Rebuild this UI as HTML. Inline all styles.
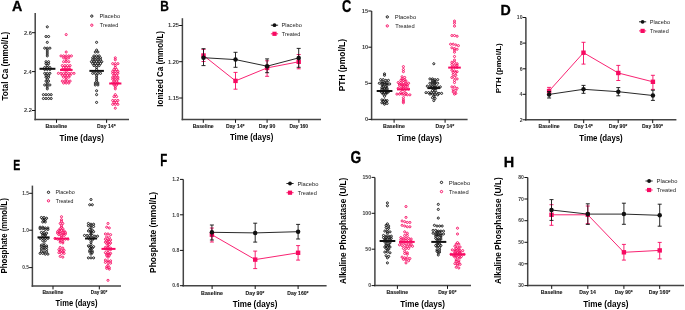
<!DOCTYPE html>
<html><head><meta charset="utf-8"><style>
html,body{margin:0;padding:0;background:#fff;width:685px;height:310px;overflow:hidden}
svg{display:block;font-family:"Liberation Sans",sans-serif;will-change:transform;filter:blur(0.3px)}
</style></head><body>
<svg width="685" height="310" viewBox="0 0 685 310">
<rect width="685" height="310" fill="#fff"/>
<text transform="translate(11.89,10.75) scale(0.994,1)" font-size="14.39" font-weight="bold" fill="#000" stroke="#000" stroke-width="0.3">A</text>
<text transform="translate(7.70,100.59) rotate(-90) scale(0.942,1)" font-size="8.72" font-weight="bold" fill="#000">Total Ca (mmol/L)</text>
<line x1="35.20" y1="13.00" x2="35.20" y2="120.25" stroke="#444" stroke-width="1.5"/>
<line x1="34.45" y1="119.50" x2="129.00" y2="119.50" stroke="#444" stroke-width="1.5"/>
<line x1="31.90" y1="110.50" x2="35.20" y2="110.50" stroke="#111" stroke-width="1.0"/>
<text transform="translate(23.95,112.45) scale(1.000,1)" font-size="5.67" font-weight="bold" fill="#3a3a3a">2.2</text>
<line x1="31.90" y1="71.60" x2="35.20" y2="71.60" stroke="#111" stroke-width="1.0"/>
<text transform="translate(23.75,73.55) scale(1.000,1)" font-size="5.67" font-weight="bold" fill="#3a3a3a">2.4</text>
<line x1="31.90" y1="32.70" x2="35.20" y2="32.70" stroke="#111" stroke-width="1.0"/>
<text transform="translate(23.92,34.65) scale(1.000,1)" font-size="5.67" font-weight="bold" fill="#3a3a3a">2.6</text>
<line x1="56.50" y1="119.50" x2="56.50" y2="122.80" stroke="#111" stroke-width="1.0"/>
<text transform="translate(45.49,127.90) scale(0.913,1)" font-size="5.81" font-weight="bold" fill="#1a1a1a" stroke="#1a1a1a" stroke-width="0.12">Baseline</text>
<line x1="106.60" y1="119.50" x2="106.60" y2="122.80" stroke="#111" stroke-width="1.0"/>
<text transform="translate(97.10,127.90) scale(0.888,1)" font-size="5.81" font-weight="bold" fill="#1a1a1a" stroke="#1a1a1a" stroke-width="0.12">Day 14*</text>
<text transform="translate(59.61,140.80) scale(0.916,1)" font-size="8.72" font-weight="bold" fill="#000">Time (days)</text>
<circle cx="47.30" cy="26.84" r="1.05" fill="none" stroke="#111" stroke-width="0.9"/>
<circle cx="46.00" cy="36.52" r="1.05" fill="none" stroke="#111" stroke-width="0.9"/>
<circle cx="48.60" cy="36.52" r="1.05" fill="none" stroke="#111" stroke-width="0.9"/>
<circle cx="47.30" cy="42.34" r="1.05" fill="none" stroke="#111" stroke-width="0.9"/>
<circle cx="44.70" cy="48.15" r="1.05" fill="none" stroke="#111" stroke-width="0.9"/>
<circle cx="47.30" cy="48.15" r="1.05" fill="none" stroke="#111" stroke-width="0.9"/>
<circle cx="49.90" cy="48.15" r="1.05" fill="none" stroke="#111" stroke-width="0.9"/>
<circle cx="47.30" cy="50.09" r="1.05" fill="none" stroke="#111" stroke-width="0.9"/>
<circle cx="47.30" cy="52.02" r="1.05" fill="none" stroke="#111" stroke-width="0.9"/>
<circle cx="47.30" cy="53.96" r="1.05" fill="none" stroke="#111" stroke-width="0.9"/>
<circle cx="47.30" cy="55.90" r="1.05" fill="none" stroke="#111" stroke-width="0.9"/>
<circle cx="46.00" cy="61.71" r="1.05" fill="none" stroke="#111" stroke-width="0.9"/>
<circle cx="48.60" cy="61.71" r="1.05" fill="none" stroke="#111" stroke-width="0.9"/>
<circle cx="46.00" cy="63.65" r="1.05" fill="none" stroke="#111" stroke-width="0.9"/>
<circle cx="48.60" cy="63.65" r="1.05" fill="none" stroke="#111" stroke-width="0.9"/>
<circle cx="47.30" cy="65.59" r="1.05" fill="none" stroke="#111" stroke-width="0.9"/>
<circle cx="44.70" cy="67.53" r="1.05" fill="none" stroke="#111" stroke-width="0.9"/>
<circle cx="47.30" cy="67.53" r="1.05" fill="none" stroke="#111" stroke-width="0.9"/>
<circle cx="49.90" cy="67.53" r="1.05" fill="none" stroke="#111" stroke-width="0.9"/>
<circle cx="44.70" cy="69.46" r="1.05" fill="none" stroke="#111" stroke-width="0.9"/>
<circle cx="47.30" cy="69.46" r="1.05" fill="none" stroke="#111" stroke-width="0.9"/>
<circle cx="49.90" cy="69.46" r="1.05" fill="none" stroke="#111" stroke-width="0.9"/>
<circle cx="44.70" cy="73.34" r="1.05" fill="none" stroke="#111" stroke-width="0.9"/>
<circle cx="47.30" cy="73.34" r="1.05" fill="none" stroke="#111" stroke-width="0.9"/>
<circle cx="49.90" cy="73.34" r="1.05" fill="none" stroke="#111" stroke-width="0.9"/>
<circle cx="46.00" cy="75.28" r="1.05" fill="none" stroke="#111" stroke-width="0.9"/>
<circle cx="48.60" cy="75.28" r="1.05" fill="none" stroke="#111" stroke-width="0.9"/>
<circle cx="46.00" cy="77.21" r="1.05" fill="none" stroke="#111" stroke-width="0.9"/>
<circle cx="48.60" cy="77.21" r="1.05" fill="none" stroke="#111" stroke-width="0.9"/>
<circle cx="47.30" cy="79.15" r="1.05" fill="none" stroke="#111" stroke-width="0.9"/>
<circle cx="46.00" cy="81.09" r="1.05" fill="none" stroke="#111" stroke-width="0.9"/>
<circle cx="48.60" cy="81.09" r="1.05" fill="none" stroke="#111" stroke-width="0.9"/>
<circle cx="47.30" cy="83.03" r="1.05" fill="none" stroke="#111" stroke-width="0.9"/>
<circle cx="44.70" cy="84.96" r="1.05" fill="none" stroke="#111" stroke-width="0.9"/>
<circle cx="47.30" cy="84.96" r="1.05" fill="none" stroke="#111" stroke-width="0.9"/>
<circle cx="49.90" cy="84.96" r="1.05" fill="none" stroke="#111" stroke-width="0.9"/>
<circle cx="47.30" cy="86.90" r="1.05" fill="none" stroke="#111" stroke-width="0.9"/>
<circle cx="47.30" cy="88.84" r="1.05" fill="none" stroke="#111" stroke-width="0.9"/>
<circle cx="43.40" cy="94.65" r="1.05" fill="none" stroke="#111" stroke-width="0.9"/>
<circle cx="46.00" cy="94.65" r="1.05" fill="none" stroke="#111" stroke-width="0.9"/>
<circle cx="48.60" cy="94.65" r="1.05" fill="none" stroke="#111" stroke-width="0.9"/>
<circle cx="51.20" cy="94.65" r="1.05" fill="none" stroke="#111" stroke-width="0.9"/>
<circle cx="43.40" cy="98.52" r="1.05" fill="none" stroke="#111" stroke-width="0.9"/>
<circle cx="46.00" cy="98.52" r="1.05" fill="none" stroke="#111" stroke-width="0.9"/>
<circle cx="48.60" cy="98.52" r="1.05" fill="none" stroke="#111" stroke-width="0.9"/>
<circle cx="51.20" cy="98.52" r="1.05" fill="none" stroke="#111" stroke-width="0.9"/>
<circle cx="66.20" cy="34.59" r="1.05" fill="none" stroke="#F70A62" stroke-width="0.9"/>
<circle cx="66.20" cy="52.02" r="1.05" fill="none" stroke="#F70A62" stroke-width="0.9"/>
<circle cx="61.00" cy="55.90" r="1.05" fill="none" stroke="#F70A62" stroke-width="0.9"/>
<circle cx="63.60" cy="55.90" r="1.05" fill="none" stroke="#F70A62" stroke-width="0.9"/>
<circle cx="66.20" cy="55.90" r="1.05" fill="none" stroke="#F70A62" stroke-width="0.9"/>
<circle cx="68.80" cy="55.90" r="1.05" fill="none" stroke="#F70A62" stroke-width="0.9"/>
<circle cx="71.40" cy="55.90" r="1.05" fill="none" stroke="#F70A62" stroke-width="0.9"/>
<circle cx="63.60" cy="57.84" r="1.05" fill="none" stroke="#F70A62" stroke-width="0.9"/>
<circle cx="66.20" cy="57.84" r="1.05" fill="none" stroke="#F70A62" stroke-width="0.9"/>
<circle cx="68.80" cy="57.84" r="1.05" fill="none" stroke="#F70A62" stroke-width="0.9"/>
<circle cx="66.20" cy="59.77" r="1.05" fill="none" stroke="#F70A62" stroke-width="0.9"/>
<circle cx="63.60" cy="61.71" r="1.05" fill="none" stroke="#F70A62" stroke-width="0.9"/>
<circle cx="66.20" cy="61.71" r="1.05" fill="none" stroke="#F70A62" stroke-width="0.9"/>
<circle cx="68.80" cy="61.71" r="1.05" fill="none" stroke="#F70A62" stroke-width="0.9"/>
<circle cx="62.30" cy="65.59" r="1.05" fill="none" stroke="#F70A62" stroke-width="0.9"/>
<circle cx="64.90" cy="65.59" r="1.05" fill="none" stroke="#F70A62" stroke-width="0.9"/>
<circle cx="67.50" cy="65.59" r="1.05" fill="none" stroke="#F70A62" stroke-width="0.9"/>
<circle cx="70.10" cy="65.59" r="1.05" fill="none" stroke="#F70A62" stroke-width="0.9"/>
<circle cx="63.60" cy="67.53" r="1.05" fill="none" stroke="#F70A62" stroke-width="0.9"/>
<circle cx="66.20" cy="67.53" r="1.05" fill="none" stroke="#F70A62" stroke-width="0.9"/>
<circle cx="68.80" cy="67.53" r="1.05" fill="none" stroke="#F70A62" stroke-width="0.9"/>
<circle cx="62.30" cy="69.46" r="1.05" fill="none" stroke="#F70A62" stroke-width="0.9"/>
<circle cx="64.90" cy="69.46" r="1.05" fill="none" stroke="#F70A62" stroke-width="0.9"/>
<circle cx="67.50" cy="69.46" r="1.05" fill="none" stroke="#F70A62" stroke-width="0.9"/>
<circle cx="70.10" cy="69.46" r="1.05" fill="none" stroke="#F70A62" stroke-width="0.9"/>
<circle cx="66.20" cy="71.40" r="1.05" fill="none" stroke="#F70A62" stroke-width="0.9"/>
<circle cx="58.40" cy="73.34" r="1.05" fill="none" stroke="#F70A62" stroke-width="0.9"/>
<circle cx="61.00" cy="73.34" r="1.05" fill="none" stroke="#F70A62" stroke-width="0.9"/>
<circle cx="63.60" cy="73.34" r="1.05" fill="none" stroke="#F70A62" stroke-width="0.9"/>
<circle cx="66.20" cy="73.34" r="1.05" fill="none" stroke="#F70A62" stroke-width="0.9"/>
<circle cx="68.80" cy="73.34" r="1.05" fill="none" stroke="#F70A62" stroke-width="0.9"/>
<circle cx="71.40" cy="73.34" r="1.05" fill="none" stroke="#F70A62" stroke-width="0.9"/>
<circle cx="74.00" cy="73.34" r="1.05" fill="none" stroke="#F70A62" stroke-width="0.9"/>
<circle cx="62.30" cy="75.28" r="1.05" fill="none" stroke="#F70A62" stroke-width="0.9"/>
<circle cx="64.90" cy="75.28" r="1.05" fill="none" stroke="#F70A62" stroke-width="0.9"/>
<circle cx="67.50" cy="75.28" r="1.05" fill="none" stroke="#F70A62" stroke-width="0.9"/>
<circle cx="70.10" cy="75.28" r="1.05" fill="none" stroke="#F70A62" stroke-width="0.9"/>
<circle cx="63.60" cy="77.21" r="1.05" fill="none" stroke="#F70A62" stroke-width="0.9"/>
<circle cx="66.20" cy="77.21" r="1.05" fill="none" stroke="#F70A62" stroke-width="0.9"/>
<circle cx="68.80" cy="77.21" r="1.05" fill="none" stroke="#F70A62" stroke-width="0.9"/>
<circle cx="66.20" cy="79.15" r="1.05" fill="none" stroke="#F70A62" stroke-width="0.9"/>
<circle cx="62.30" cy="81.09" r="1.05" fill="none" stroke="#F70A62" stroke-width="0.9"/>
<circle cx="64.90" cy="81.09" r="1.05" fill="none" stroke="#F70A62" stroke-width="0.9"/>
<circle cx="67.50" cy="81.09" r="1.05" fill="none" stroke="#F70A62" stroke-width="0.9"/>
<circle cx="70.10" cy="81.09" r="1.05" fill="none" stroke="#F70A62" stroke-width="0.9"/>
<circle cx="63.60" cy="83.03" r="1.05" fill="none" stroke="#F70A62" stroke-width="0.9"/>
<circle cx="66.20" cy="83.03" r="1.05" fill="none" stroke="#F70A62" stroke-width="0.9"/>
<circle cx="68.80" cy="83.03" r="1.05" fill="none" stroke="#F70A62" stroke-width="0.9"/>
<circle cx="96.60" cy="42.34" r="1.05" fill="none" stroke="#111" stroke-width="0.9"/>
<circle cx="96.60" cy="50.09" r="1.05" fill="none" stroke="#111" stroke-width="0.9"/>
<circle cx="95.30" cy="52.02" r="1.05" fill="none" stroke="#111" stroke-width="0.9"/>
<circle cx="97.90" cy="52.02" r="1.05" fill="none" stroke="#111" stroke-width="0.9"/>
<circle cx="94.00" cy="55.90" r="1.05" fill="none" stroke="#111" stroke-width="0.9"/>
<circle cx="96.60" cy="55.90" r="1.05" fill="none" stroke="#111" stroke-width="0.9"/>
<circle cx="99.20" cy="55.90" r="1.05" fill="none" stroke="#111" stroke-width="0.9"/>
<circle cx="92.70" cy="57.84" r="1.05" fill="none" stroke="#111" stroke-width="0.9"/>
<circle cx="95.30" cy="57.84" r="1.05" fill="none" stroke="#111" stroke-width="0.9"/>
<circle cx="97.90" cy="57.84" r="1.05" fill="none" stroke="#111" stroke-width="0.9"/>
<circle cx="100.50" cy="57.84" r="1.05" fill="none" stroke="#111" stroke-width="0.9"/>
<circle cx="92.70" cy="59.77" r="1.05" fill="none" stroke="#111" stroke-width="0.9"/>
<circle cx="95.30" cy="59.77" r="1.05" fill="none" stroke="#111" stroke-width="0.9"/>
<circle cx="97.90" cy="59.77" r="1.05" fill="none" stroke="#111" stroke-width="0.9"/>
<circle cx="100.50" cy="59.77" r="1.05" fill="none" stroke="#111" stroke-width="0.9"/>
<circle cx="91.40" cy="61.71" r="1.05" fill="none" stroke="#111" stroke-width="0.9"/>
<circle cx="94.00" cy="61.71" r="1.05" fill="none" stroke="#111" stroke-width="0.9"/>
<circle cx="96.60" cy="61.71" r="1.05" fill="none" stroke="#111" stroke-width="0.9"/>
<circle cx="99.20" cy="61.71" r="1.05" fill="none" stroke="#111" stroke-width="0.9"/>
<circle cx="101.80" cy="61.71" r="1.05" fill="none" stroke="#111" stroke-width="0.9"/>
<circle cx="92.70" cy="63.65" r="1.05" fill="none" stroke="#111" stroke-width="0.9"/>
<circle cx="95.30" cy="63.65" r="1.05" fill="none" stroke="#111" stroke-width="0.9"/>
<circle cx="97.90" cy="63.65" r="1.05" fill="none" stroke="#111" stroke-width="0.9"/>
<circle cx="100.50" cy="63.65" r="1.05" fill="none" stroke="#111" stroke-width="0.9"/>
<circle cx="94.00" cy="65.59" r="1.05" fill="none" stroke="#111" stroke-width="0.9"/>
<circle cx="96.60" cy="65.59" r="1.05" fill="none" stroke="#111" stroke-width="0.9"/>
<circle cx="99.20" cy="65.59" r="1.05" fill="none" stroke="#111" stroke-width="0.9"/>
<circle cx="96.60" cy="67.53" r="1.05" fill="none" stroke="#111" stroke-width="0.9"/>
<circle cx="96.60" cy="69.46" r="1.05" fill="none" stroke="#111" stroke-width="0.9"/>
<circle cx="92.70" cy="73.34" r="1.05" fill="none" stroke="#111" stroke-width="0.9"/>
<circle cx="95.30" cy="73.34" r="1.05" fill="none" stroke="#111" stroke-width="0.9"/>
<circle cx="97.90" cy="73.34" r="1.05" fill="none" stroke="#111" stroke-width="0.9"/>
<circle cx="100.50" cy="73.34" r="1.05" fill="none" stroke="#111" stroke-width="0.9"/>
<circle cx="96.60" cy="75.28" r="1.05" fill="none" stroke="#111" stroke-width="0.9"/>
<circle cx="96.60" cy="77.21" r="1.05" fill="none" stroke="#111" stroke-width="0.9"/>
<circle cx="96.60" cy="79.15" r="1.05" fill="none" stroke="#111" stroke-width="0.9"/>
<circle cx="96.60" cy="81.09" r="1.05" fill="none" stroke="#111" stroke-width="0.9"/>
<circle cx="95.30" cy="83.03" r="1.05" fill="none" stroke="#111" stroke-width="0.9"/>
<circle cx="97.90" cy="83.03" r="1.05" fill="none" stroke="#111" stroke-width="0.9"/>
<circle cx="95.30" cy="84.96" r="1.05" fill="none" stroke="#111" stroke-width="0.9"/>
<circle cx="97.90" cy="84.96" r="1.05" fill="none" stroke="#111" stroke-width="0.9"/>
<circle cx="96.60" cy="90.77" r="1.05" fill="none" stroke="#111" stroke-width="0.9"/>
<circle cx="96.60" cy="94.65" r="1.05" fill="none" stroke="#111" stroke-width="0.9"/>
<circle cx="96.60" cy="102.40" r="1.05" fill="none" stroke="#111" stroke-width="0.9"/>
<circle cx="115.30" cy="57.84" r="1.05" fill="none" stroke="#F70A62" stroke-width="0.9"/>
<circle cx="115.30" cy="59.77" r="1.05" fill="none" stroke="#F70A62" stroke-width="0.9"/>
<circle cx="112.70" cy="63.65" r="1.05" fill="none" stroke="#F70A62" stroke-width="0.9"/>
<circle cx="115.30" cy="63.65" r="1.05" fill="none" stroke="#F70A62" stroke-width="0.9"/>
<circle cx="117.90" cy="63.65" r="1.05" fill="none" stroke="#F70A62" stroke-width="0.9"/>
<circle cx="115.30" cy="65.59" r="1.05" fill="none" stroke="#F70A62" stroke-width="0.9"/>
<circle cx="115.30" cy="67.53" r="1.05" fill="none" stroke="#F70A62" stroke-width="0.9"/>
<circle cx="114.00" cy="69.46" r="1.05" fill="none" stroke="#F70A62" stroke-width="0.9"/>
<circle cx="116.60" cy="69.46" r="1.05" fill="none" stroke="#F70A62" stroke-width="0.9"/>
<circle cx="112.70" cy="71.40" r="1.05" fill="none" stroke="#F70A62" stroke-width="0.9"/>
<circle cx="115.30" cy="71.40" r="1.05" fill="none" stroke="#F70A62" stroke-width="0.9"/>
<circle cx="117.90" cy="71.40" r="1.05" fill="none" stroke="#F70A62" stroke-width="0.9"/>
<circle cx="112.70" cy="73.34" r="1.05" fill="none" stroke="#F70A62" stroke-width="0.9"/>
<circle cx="115.30" cy="73.34" r="1.05" fill="none" stroke="#F70A62" stroke-width="0.9"/>
<circle cx="117.90" cy="73.34" r="1.05" fill="none" stroke="#F70A62" stroke-width="0.9"/>
<circle cx="114.00" cy="75.28" r="1.05" fill="none" stroke="#F70A62" stroke-width="0.9"/>
<circle cx="116.60" cy="75.28" r="1.05" fill="none" stroke="#F70A62" stroke-width="0.9"/>
<circle cx="112.70" cy="77.21" r="1.05" fill="none" stroke="#F70A62" stroke-width="0.9"/>
<circle cx="115.30" cy="77.21" r="1.05" fill="none" stroke="#F70A62" stroke-width="0.9"/>
<circle cx="117.90" cy="77.21" r="1.05" fill="none" stroke="#F70A62" stroke-width="0.9"/>
<circle cx="112.70" cy="79.15" r="1.05" fill="none" stroke="#F70A62" stroke-width="0.9"/>
<circle cx="115.30" cy="79.15" r="1.05" fill="none" stroke="#F70A62" stroke-width="0.9"/>
<circle cx="117.90" cy="79.15" r="1.05" fill="none" stroke="#F70A62" stroke-width="0.9"/>
<circle cx="114.00" cy="81.09" r="1.05" fill="none" stroke="#F70A62" stroke-width="0.9"/>
<circle cx="116.60" cy="81.09" r="1.05" fill="none" stroke="#F70A62" stroke-width="0.9"/>
<circle cx="112.70" cy="83.03" r="1.05" fill="none" stroke="#F70A62" stroke-width="0.9"/>
<circle cx="115.30" cy="83.03" r="1.05" fill="none" stroke="#F70A62" stroke-width="0.9"/>
<circle cx="117.90" cy="83.03" r="1.05" fill="none" stroke="#F70A62" stroke-width="0.9"/>
<circle cx="114.00" cy="84.96" r="1.05" fill="none" stroke="#F70A62" stroke-width="0.9"/>
<circle cx="116.60" cy="84.96" r="1.05" fill="none" stroke="#F70A62" stroke-width="0.9"/>
<circle cx="115.30" cy="86.90" r="1.05" fill="none" stroke="#F70A62" stroke-width="0.9"/>
<circle cx="115.30" cy="88.84" r="1.05" fill="none" stroke="#F70A62" stroke-width="0.9"/>
<circle cx="115.30" cy="94.65" r="1.05" fill="none" stroke="#F70A62" stroke-width="0.9"/>
<circle cx="114.00" cy="96.59" r="1.05" fill="none" stroke="#F70A62" stroke-width="0.9"/>
<circle cx="116.60" cy="96.59" r="1.05" fill="none" stroke="#F70A62" stroke-width="0.9"/>
<circle cx="112.70" cy="100.46" r="1.05" fill="none" stroke="#F70A62" stroke-width="0.9"/>
<circle cx="115.30" cy="100.46" r="1.05" fill="none" stroke="#F70A62" stroke-width="0.9"/>
<circle cx="117.90" cy="100.46" r="1.05" fill="none" stroke="#F70A62" stroke-width="0.9"/>
<circle cx="114.00" cy="102.40" r="1.05" fill="none" stroke="#F70A62" stroke-width="0.9"/>
<circle cx="116.60" cy="102.40" r="1.05" fill="none" stroke="#F70A62" stroke-width="0.9"/>
<circle cx="112.70" cy="104.34" r="1.05" fill="none" stroke="#F70A62" stroke-width="0.9"/>
<circle cx="115.30" cy="104.34" r="1.05" fill="none" stroke="#F70A62" stroke-width="0.9"/>
<circle cx="117.90" cy="104.34" r="1.05" fill="none" stroke="#F70A62" stroke-width="0.9"/>
<circle cx="115.30" cy="108.21" r="1.05" fill="none" stroke="#F70A62" stroke-width="0.9"/>
<line x1="39.50" y1="68.80" x2="55.40" y2="68.80" stroke="#111" stroke-width="2.0"/>
<line x1="60.00" y1="69.90" x2="72.60" y2="69.90" stroke="#F70A62" stroke-width="2.0"/>
<line x1="89.40" y1="70.90" x2="103.90" y2="70.90" stroke="#111" stroke-width="2.0"/>
<line x1="109.20" y1="83.50" x2="121.40" y2="83.50" stroke="#F70A62" stroke-width="2.0"/>
<circle cx="91.8" cy="16.1" r="1.15" fill="none" stroke="#111" stroke-width="0.95"/>
<circle cx="91.8" cy="25.2" r="1.15" fill="none" stroke="#F70A62" stroke-width="0.95"/>
<text transform="translate(99.43,18.25) scale(0.917,1)" font-size="6.25" fill="#222">Placebo</text>
<text transform="translate(99.78,27.35) scale(0.876,1)" font-size="6.25" fill="#222">Treated</text>
<text transform="translate(160.25,10.75) scale(0.807,1)" font-size="14.83" font-weight="bold" fill="#000" stroke="#000" stroke-width="0.3">B</text>
<text transform="translate(163.00,106.63) rotate(-90) scale(0.947,1)" font-size="8.43" font-weight="bold" fill="#000">Ionized Ca (mmol/L)</text>
<line x1="182.40" y1="18.20" x2="182.40" y2="120.25" stroke="#444" stroke-width="1.5"/>
<line x1="181.65" y1="119.50" x2="321.00" y2="119.50" stroke="#444" stroke-width="1.5"/>
<line x1="179.10" y1="98.00" x2="182.40" y2="98.00" stroke="#111" stroke-width="1.0"/>
<text transform="translate(167.93,99.95) scale(1.000,1)" font-size="5.67" font-weight="bold" fill="#3a3a3a">1.15</text>
<line x1="179.10" y1="61.70" x2="182.40" y2="61.70" stroke="#111" stroke-width="1.0"/>
<text transform="translate(168.00,63.65) scale(1.000,1)" font-size="5.67" font-weight="bold" fill="#3a3a3a">1.20</text>
<line x1="179.10" y1="25.50" x2="182.40" y2="25.50" stroke="#111" stroke-width="1.0"/>
<text transform="translate(167.93,27.45) scale(1.000,1)" font-size="5.67" font-weight="bold" fill="#3a3a3a">1.25</text>
<line x1="203.30" y1="119.50" x2="203.30" y2="122.80" stroke="#111" stroke-width="1.0"/>
<text transform="translate(192.66,127.90) scale(0.883,1)" font-size="5.81" font-weight="bold" fill="#1a1a1a" stroke="#1a1a1a" stroke-width="0.12">Baseline</text>
<line x1="235.50" y1="119.50" x2="235.50" y2="122.80" stroke="#111" stroke-width="1.0"/>
<text transform="translate(226.00,127.90) scale(0.888,1)" font-size="5.81" font-weight="bold" fill="#1a1a1a" stroke="#1a1a1a" stroke-width="0.12">Day 14*</text>
<line x1="267.10" y1="119.50" x2="267.10" y2="122.80" stroke="#111" stroke-width="1.0"/>
<text transform="translate(258.76,127.90) scale(0.883,1)" font-size="5.81" font-weight="bold" fill="#1a1a1a" stroke="#1a1a1a" stroke-width="0.12">Day 90</text>
<line x1="298.90" y1="119.50" x2="298.90" y2="122.80" stroke="#111" stroke-width="1.0"/>
<text transform="translate(289.47,127.90) scale(0.852,1)" font-size="5.81" font-weight="bold" fill="#1a1a1a" stroke="#1a1a1a" stroke-width="0.12">Day 160</text>
<text transform="translate(229.91,140.10) scale(0.899,1)" font-size="8.72" font-weight="bold" fill="#000">Time (days)</text>
<polyline points="203.5,55.5 235.5,80.9 267.1,67.9 298.7,61.8" fill="none" stroke="#F70A62" stroke-width="0.9"/>
<line x1="203.50" y1="49.40" x2="203.50" y2="61.50" stroke="#F70A62" stroke-width="0.9"/>
<line x1="201.50" y1="49.40" x2="205.50" y2="49.40" stroke="#F70A62" stroke-width="0.9"/>
<line x1="201.50" y1="61.50" x2="205.50" y2="61.50" stroke="#F70A62" stroke-width="0.9"/>
<line x1="235.50" y1="72.40" x2="235.50" y2="89.20" stroke="#F70A62" stroke-width="0.9"/>
<line x1="233.50" y1="72.40" x2="237.50" y2="72.40" stroke="#F70A62" stroke-width="0.9"/>
<line x1="233.50" y1="89.20" x2="237.50" y2="89.20" stroke="#F70A62" stroke-width="0.9"/>
<line x1="267.10" y1="60.80" x2="267.10" y2="76.30" stroke="#F70A62" stroke-width="0.9"/>
<line x1="265.10" y1="60.80" x2="269.10" y2="60.80" stroke="#F70A62" stroke-width="0.9"/>
<line x1="265.10" y1="76.30" x2="269.10" y2="76.30" stroke="#F70A62" stroke-width="0.9"/>
<line x1="298.70" y1="54.50" x2="298.70" y2="68.80" stroke="#F70A62" stroke-width="0.9"/>
<line x1="296.70" y1="54.50" x2="300.70" y2="54.50" stroke="#F70A62" stroke-width="0.9"/>
<line x1="296.70" y1="68.80" x2="300.70" y2="68.80" stroke="#F70A62" stroke-width="0.9"/>
<rect x="201.3" y="53.3" width="4.4" height="4.4" fill="#F70A62"/>
<rect x="233.3" y="78.7" width="4.4" height="4.4" fill="#F70A62"/>
<rect x="264.90000000000003" y="65.7" width="4.4" height="4.4" fill="#F70A62"/>
<rect x="296.5" y="59.599999999999994" width="4.4" height="4.4" fill="#F70A62"/>
<polyline points="203.5,57.7 235.5,59.6 267.1,66.2 298.7,57.9" fill="none" stroke="#111" stroke-width="0.9"/>
<line x1="203.50" y1="48.70" x2="203.50" y2="65.60" stroke="#111" stroke-width="0.9"/>
<line x1="201.50" y1="48.70" x2="205.50" y2="48.70" stroke="#111" stroke-width="0.9"/>
<line x1="201.50" y1="65.60" x2="205.50" y2="65.60" stroke="#111" stroke-width="0.9"/>
<line x1="235.50" y1="52.30" x2="235.50" y2="67.30" stroke="#111" stroke-width="0.9"/>
<line x1="233.50" y1="52.30" x2="237.50" y2="52.30" stroke="#111" stroke-width="0.9"/>
<line x1="233.50" y1="67.30" x2="237.50" y2="67.30" stroke="#111" stroke-width="0.9"/>
<line x1="267.10" y1="58.90" x2="267.10" y2="72.70" stroke="#111" stroke-width="0.9"/>
<line x1="265.10" y1="58.90" x2="269.10" y2="58.90" stroke="#111" stroke-width="0.9"/>
<line x1="265.10" y1="72.70" x2="269.10" y2="72.70" stroke="#111" stroke-width="0.9"/>
<line x1="298.70" y1="48.40" x2="298.70" y2="67.30" stroke="#111" stroke-width="0.9"/>
<line x1="296.70" y1="48.40" x2="300.70" y2="48.40" stroke="#111" stroke-width="0.9"/>
<line x1="296.70" y1="67.30" x2="300.70" y2="67.30" stroke="#111" stroke-width="0.9"/>
<circle cx="203.5" cy="57.7" r="2.25" fill="#111"/>
<circle cx="235.5" cy="59.6" r="2.25" fill="#111"/>
<circle cx="267.1" cy="66.2" r="2.25" fill="#111"/>
<circle cx="298.7" cy="57.9" r="2.25" fill="#111"/>
<line x1="270.90" y1="25.20" x2="278.10" y2="25.20" stroke="#111" stroke-width="0.9"/>
<circle cx="274.5" cy="25.2" r="1.9" fill="#111"/>
<line x1="270.90" y1="33.80" x2="278.10" y2="33.80" stroke="#F70A62" stroke-width="0.9"/>
<rect x="272.4" y="31.699999999999996" width="4.2" height="4.2" fill="#F70A62"/>
<text transform="translate(281.43,27.35) scale(0.908,1)" font-size="6.25" fill="#222">Placebo</text>
<text transform="translate(281.78,35.95) scale(0.876,1)" font-size="6.25" fill="#222">Treated</text>
<text transform="translate(341.92,11.60) scale(0.819,1)" font-size="15.68" font-weight="bold" fill="#000" stroke="#000" stroke-width="0.3">C</text>
<text transform="translate(345.10,91.36) rotate(-90) scale(0.967,1)" font-size="8.72" font-weight="bold" fill="#000">PTH (pmol/L)</text>
<line x1="371.60" y1="11.00" x2="371.60" y2="120.15" stroke="#444" stroke-width="1.5"/>
<line x1="370.85" y1="119.40" x2="467.60" y2="119.40" stroke="#444" stroke-width="1.5"/>
<line x1="368.30" y1="119.40" x2="371.60" y2="119.40" stroke="#111" stroke-width="1.0"/>
<text transform="translate(365.08,121.35) scale(1.000,1)" font-size="5.67" font-weight="bold" fill="#3a3a3a">0</text>
<line x1="368.30" y1="83.30" x2="371.60" y2="83.30" stroke="#111" stroke-width="1.0"/>
<text transform="translate(365.01,85.25) scale(1.000,1)" font-size="5.67" font-weight="bold" fill="#3a3a3a">5</text>
<line x1="368.30" y1="47.20" x2="371.60" y2="47.20" stroke="#111" stroke-width="1.0"/>
<text transform="translate(361.93,49.15) scale(1.000,1)" font-size="5.67" font-weight="bold" fill="#3a3a3a">10</text>
<line x1="368.30" y1="11.00" x2="371.60" y2="11.00" stroke="#111" stroke-width="1.0"/>
<text transform="translate(361.85,12.95) scale(1.000,1)" font-size="5.67" font-weight="bold" fill="#3a3a3a">15</text>
<line x1="394.10" y1="119.40" x2="394.10" y2="122.70" stroke="#111" stroke-width="1.0"/>
<text transform="translate(383.09,127.80) scale(0.913,1)" font-size="5.81" font-weight="bold" fill="#1a1a1a" stroke="#1a1a1a" stroke-width="0.12">Baseline</text>
<line x1="445.10" y1="119.40" x2="445.10" y2="122.70" stroke="#111" stroke-width="1.0"/>
<text transform="translate(435.60,127.80) scale(0.888,1)" font-size="5.81" font-weight="bold" fill="#1a1a1a" stroke="#1a1a1a" stroke-width="0.12">Day 14*</text>
<text transform="translate(397.01,141.10) scale(0.931,1)" font-size="8.72" font-weight="bold" fill="#000">Time (days)</text>
<circle cx="384.50" cy="73.85" r="1.05" fill="none" stroke="#111" stroke-width="0.9"/>
<circle cx="384.50" cy="75.30" r="1.05" fill="none" stroke="#111" stroke-width="0.9"/>
<circle cx="380.60" cy="79.64" r="1.05" fill="none" stroke="#111" stroke-width="0.9"/>
<circle cx="383.20" cy="79.64" r="1.05" fill="none" stroke="#111" stroke-width="0.9"/>
<circle cx="385.80" cy="80.36" r="1.05" fill="none" stroke="#111" stroke-width="0.9"/>
<circle cx="388.40" cy="80.36" r="1.05" fill="none" stroke="#111" stroke-width="0.9"/>
<circle cx="381.90" cy="81.80" r="1.05" fill="none" stroke="#111" stroke-width="0.9"/>
<circle cx="384.50" cy="82.53" r="1.05" fill="none" stroke="#111" stroke-width="0.9"/>
<circle cx="387.10" cy="82.53" r="1.05" fill="none" stroke="#111" stroke-width="0.9"/>
<circle cx="379.30" cy="83.25" r="1.05" fill="none" stroke="#111" stroke-width="0.9"/>
<circle cx="381.90" cy="83.25" r="1.05" fill="none" stroke="#111" stroke-width="0.9"/>
<circle cx="384.50" cy="83.25" r="1.05" fill="none" stroke="#111" stroke-width="0.9"/>
<circle cx="387.10" cy="83.97" r="1.05" fill="none" stroke="#111" stroke-width="0.9"/>
<circle cx="389.70" cy="83.97" r="1.05" fill="none" stroke="#111" stroke-width="0.9"/>
<circle cx="381.90" cy="84.70" r="1.05" fill="none" stroke="#111" stroke-width="0.9"/>
<circle cx="384.50" cy="84.70" r="1.05" fill="none" stroke="#111" stroke-width="0.9"/>
<circle cx="387.10" cy="85.42" r="1.05" fill="none" stroke="#111" stroke-width="0.9"/>
<circle cx="383.20" cy="86.14" r="1.05" fill="none" stroke="#111" stroke-width="0.9"/>
<circle cx="385.80" cy="86.87" r="1.05" fill="none" stroke="#111" stroke-width="0.9"/>
<circle cx="381.90" cy="87.59" r="1.05" fill="none" stroke="#111" stroke-width="0.9"/>
<circle cx="384.50" cy="88.31" r="1.05" fill="none" stroke="#111" stroke-width="0.9"/>
<circle cx="387.10" cy="88.31" r="1.05" fill="none" stroke="#111" stroke-width="0.9"/>
<circle cx="381.90" cy="89.03" r="1.05" fill="none" stroke="#111" stroke-width="0.9"/>
<circle cx="384.50" cy="89.03" r="1.05" fill="none" stroke="#111" stroke-width="0.9"/>
<circle cx="387.10" cy="89.76" r="1.05" fill="none" stroke="#111" stroke-width="0.9"/>
<circle cx="380.60" cy="91.20" r="1.05" fill="none" stroke="#111" stroke-width="0.9"/>
<circle cx="383.20" cy="91.20" r="1.05" fill="none" stroke="#111" stroke-width="0.9"/>
<circle cx="385.80" cy="91.93" r="1.05" fill="none" stroke="#111" stroke-width="0.9"/>
<circle cx="388.40" cy="91.93" r="1.05" fill="none" stroke="#111" stroke-width="0.9"/>
<circle cx="381.90" cy="92.65" r="1.05" fill="none" stroke="#111" stroke-width="0.9"/>
<circle cx="384.50" cy="92.65" r="1.05" fill="none" stroke="#111" stroke-width="0.9"/>
<circle cx="387.10" cy="92.65" r="1.05" fill="none" stroke="#111" stroke-width="0.9"/>
<circle cx="383.20" cy="94.09" r="1.05" fill="none" stroke="#111" stroke-width="0.9"/>
<circle cx="385.80" cy="94.09" r="1.05" fill="none" stroke="#111" stroke-width="0.9"/>
<circle cx="384.50" cy="96.26" r="1.05" fill="none" stroke="#111" stroke-width="0.9"/>
<circle cx="381.90" cy="99.88" r="1.05" fill="none" stroke="#111" stroke-width="0.9"/>
<circle cx="384.50" cy="99.88" r="1.05" fill="none" stroke="#111" stroke-width="0.9"/>
<circle cx="387.10" cy="100.60" r="1.05" fill="none" stroke="#111" stroke-width="0.9"/>
<circle cx="383.20" cy="101.33" r="1.05" fill="none" stroke="#111" stroke-width="0.9"/>
<circle cx="385.80" cy="101.33" r="1.05" fill="none" stroke="#111" stroke-width="0.9"/>
<circle cx="381.90" cy="102.77" r="1.05" fill="none" stroke="#111" stroke-width="0.9"/>
<circle cx="384.50" cy="102.77" r="1.05" fill="none" stroke="#111" stroke-width="0.9"/>
<circle cx="387.10" cy="103.49" r="1.05" fill="none" stroke="#111" stroke-width="0.9"/>
<circle cx="384.50" cy="104.22" r="1.05" fill="none" stroke="#111" stroke-width="0.9"/>
<circle cx="403.40" cy="66.62" r="1.05" fill="none" stroke="#F70A62" stroke-width="0.9"/>
<circle cx="403.40" cy="69.51" r="1.05" fill="none" stroke="#F70A62" stroke-width="0.9"/>
<circle cx="403.40" cy="71.68" r="1.05" fill="none" stroke="#F70A62" stroke-width="0.9"/>
<circle cx="402.10" cy="76.74" r="1.05" fill="none" stroke="#F70A62" stroke-width="0.9"/>
<circle cx="404.70" cy="77.47" r="1.05" fill="none" stroke="#F70A62" stroke-width="0.9"/>
<circle cx="402.10" cy="78.91" r="1.05" fill="none" stroke="#F70A62" stroke-width="0.9"/>
<circle cx="404.70" cy="79.64" r="1.05" fill="none" stroke="#F70A62" stroke-width="0.9"/>
<circle cx="400.80" cy="80.36" r="1.05" fill="none" stroke="#F70A62" stroke-width="0.9"/>
<circle cx="403.40" cy="80.36" r="1.05" fill="none" stroke="#F70A62" stroke-width="0.9"/>
<circle cx="406.00" cy="81.08" r="1.05" fill="none" stroke="#F70A62" stroke-width="0.9"/>
<circle cx="398.20" cy="82.53" r="1.05" fill="none" stroke="#F70A62" stroke-width="0.9"/>
<circle cx="400.80" cy="82.53" r="1.05" fill="none" stroke="#F70A62" stroke-width="0.9"/>
<circle cx="403.40" cy="82.53" r="1.05" fill="none" stroke="#F70A62" stroke-width="0.9"/>
<circle cx="406.00" cy="83.25" r="1.05" fill="none" stroke="#F70A62" stroke-width="0.9"/>
<circle cx="408.60" cy="83.25" r="1.05" fill="none" stroke="#F70A62" stroke-width="0.9"/>
<circle cx="399.50" cy="83.97" r="1.05" fill="none" stroke="#F70A62" stroke-width="0.9"/>
<circle cx="402.10" cy="84.70" r="1.05" fill="none" stroke="#F70A62" stroke-width="0.9"/>
<circle cx="404.70" cy="84.70" r="1.05" fill="none" stroke="#F70A62" stroke-width="0.9"/>
<circle cx="407.30" cy="84.70" r="1.05" fill="none" stroke="#F70A62" stroke-width="0.9"/>
<circle cx="399.50" cy="85.42" r="1.05" fill="none" stroke="#F70A62" stroke-width="0.9"/>
<circle cx="402.10" cy="85.42" r="1.05" fill="none" stroke="#F70A62" stroke-width="0.9"/>
<circle cx="404.70" cy="85.42" r="1.05" fill="none" stroke="#F70A62" stroke-width="0.9"/>
<circle cx="407.30" cy="86.14" r="1.05" fill="none" stroke="#F70A62" stroke-width="0.9"/>
<circle cx="403.40" cy="86.87" r="1.05" fill="none" stroke="#F70A62" stroke-width="0.9"/>
<circle cx="398.20" cy="88.31" r="1.05" fill="none" stroke="#F70A62" stroke-width="0.9"/>
<circle cx="400.80" cy="88.31" r="1.05" fill="none" stroke="#F70A62" stroke-width="0.9"/>
<circle cx="403.40" cy="88.31" r="1.05" fill="none" stroke="#F70A62" stroke-width="0.9"/>
<circle cx="406.00" cy="88.31" r="1.05" fill="none" stroke="#F70A62" stroke-width="0.9"/>
<circle cx="408.60" cy="89.03" r="1.05" fill="none" stroke="#F70A62" stroke-width="0.9"/>
<circle cx="402.10" cy="89.76" r="1.05" fill="none" stroke="#F70A62" stroke-width="0.9"/>
<circle cx="404.70" cy="90.48" r="1.05" fill="none" stroke="#F70A62" stroke-width="0.9"/>
<circle cx="400.80" cy="92.65" r="1.05" fill="none" stroke="#F70A62" stroke-width="0.9"/>
<circle cx="403.40" cy="93.37" r="1.05" fill="none" stroke="#F70A62" stroke-width="0.9"/>
<circle cx="406.00" cy="93.37" r="1.05" fill="none" stroke="#F70A62" stroke-width="0.9"/>
<circle cx="396.90" cy="94.09" r="1.05" fill="none" stroke="#F70A62" stroke-width="0.9"/>
<circle cx="399.50" cy="94.09" r="1.05" fill="none" stroke="#F70A62" stroke-width="0.9"/>
<circle cx="402.10" cy="94.09" r="1.05" fill="none" stroke="#F70A62" stroke-width="0.9"/>
<circle cx="404.70" cy="94.82" r="1.05" fill="none" stroke="#F70A62" stroke-width="0.9"/>
<circle cx="407.30" cy="94.82" r="1.05" fill="none" stroke="#F70A62" stroke-width="0.9"/>
<circle cx="409.90" cy="94.82" r="1.05" fill="none" stroke="#F70A62" stroke-width="0.9"/>
<circle cx="403.40" cy="97.71" r="1.05" fill="none" stroke="#F70A62" stroke-width="0.9"/>
<circle cx="403.40" cy="99.88" r="1.05" fill="none" stroke="#F70A62" stroke-width="0.9"/>
<circle cx="403.40" cy="101.33" r="1.05" fill="none" stroke="#F70A62" stroke-width="0.9"/>
<circle cx="403.40" cy="102.77" r="1.05" fill="none" stroke="#F70A62" stroke-width="0.9"/>
<circle cx="433.80" cy="63.73" r="1.05" fill="none" stroke="#111" stroke-width="0.9"/>
<circle cx="429.90" cy="78.91" r="1.05" fill="none" stroke="#111" stroke-width="0.9"/>
<circle cx="432.50" cy="78.91" r="1.05" fill="none" stroke="#111" stroke-width="0.9"/>
<circle cx="435.10" cy="79.64" r="1.05" fill="none" stroke="#111" stroke-width="0.9"/>
<circle cx="437.70" cy="79.64" r="1.05" fill="none" stroke="#111" stroke-width="0.9"/>
<circle cx="432.50" cy="80.36" r="1.05" fill="none" stroke="#111" stroke-width="0.9"/>
<circle cx="435.10" cy="81.08" r="1.05" fill="none" stroke="#111" stroke-width="0.9"/>
<circle cx="432.50" cy="81.80" r="1.05" fill="none" stroke="#111" stroke-width="0.9"/>
<circle cx="435.10" cy="82.53" r="1.05" fill="none" stroke="#111" stroke-width="0.9"/>
<circle cx="429.90" cy="83.25" r="1.05" fill="none" stroke="#111" stroke-width="0.9"/>
<circle cx="432.50" cy="83.25" r="1.05" fill="none" stroke="#111" stroke-width="0.9"/>
<circle cx="435.10" cy="83.25" r="1.05" fill="none" stroke="#111" stroke-width="0.9"/>
<circle cx="437.70" cy="83.25" r="1.05" fill="none" stroke="#111" stroke-width="0.9"/>
<circle cx="432.50" cy="84.70" r="1.05" fill="none" stroke="#111" stroke-width="0.9"/>
<circle cx="435.10" cy="85.42" r="1.05" fill="none" stroke="#111" stroke-width="0.9"/>
<circle cx="427.30" cy="86.14" r="1.05" fill="none" stroke="#111" stroke-width="0.9"/>
<circle cx="429.90" cy="86.14" r="1.05" fill="none" stroke="#111" stroke-width="0.9"/>
<circle cx="432.50" cy="86.87" r="1.05" fill="none" stroke="#111" stroke-width="0.9"/>
<circle cx="435.10" cy="86.87" r="1.05" fill="none" stroke="#111" stroke-width="0.9"/>
<circle cx="437.70" cy="86.87" r="1.05" fill="none" stroke="#111" stroke-width="0.9"/>
<circle cx="440.30" cy="86.87" r="1.05" fill="none" stroke="#111" stroke-width="0.9"/>
<circle cx="431.20" cy="87.59" r="1.05" fill="none" stroke="#111" stroke-width="0.9"/>
<circle cx="433.80" cy="87.59" r="1.05" fill="none" stroke="#111" stroke-width="0.9"/>
<circle cx="436.40" cy="88.31" r="1.05" fill="none" stroke="#111" stroke-width="0.9"/>
<circle cx="433.80" cy="89.03" r="1.05" fill="none" stroke="#111" stroke-width="0.9"/>
<circle cx="432.50" cy="90.48" r="1.05" fill="none" stroke="#111" stroke-width="0.9"/>
<circle cx="435.10" cy="90.48" r="1.05" fill="none" stroke="#111" stroke-width="0.9"/>
<circle cx="426.00" cy="92.65" r="1.05" fill="none" stroke="#111" stroke-width="0.9"/>
<circle cx="428.60" cy="92.65" r="1.05" fill="none" stroke="#111" stroke-width="0.9"/>
<circle cx="431.20" cy="92.65" r="1.05" fill="none" stroke="#111" stroke-width="0.9"/>
<circle cx="433.80" cy="92.65" r="1.05" fill="none" stroke="#111" stroke-width="0.9"/>
<circle cx="436.40" cy="92.65" r="1.05" fill="none" stroke="#111" stroke-width="0.9"/>
<circle cx="439.00" cy="93.37" r="1.05" fill="none" stroke="#111" stroke-width="0.9"/>
<circle cx="441.60" cy="93.37" r="1.05" fill="none" stroke="#111" stroke-width="0.9"/>
<circle cx="429.90" cy="94.09" r="1.05" fill="none" stroke="#111" stroke-width="0.9"/>
<circle cx="432.50" cy="94.09" r="1.05" fill="none" stroke="#111" stroke-width="0.9"/>
<circle cx="435.10" cy="94.82" r="1.05" fill="none" stroke="#111" stroke-width="0.9"/>
<circle cx="437.70" cy="94.82" r="1.05" fill="none" stroke="#111" stroke-width="0.9"/>
<circle cx="433.80" cy="96.26" r="1.05" fill="none" stroke="#111" stroke-width="0.9"/>
<circle cx="432.50" cy="97.71" r="1.05" fill="none" stroke="#111" stroke-width="0.9"/>
<circle cx="435.10" cy="98.43" r="1.05" fill="none" stroke="#111" stroke-width="0.9"/>
<circle cx="433.80" cy="100.60" r="1.05" fill="none" stroke="#111" stroke-width="0.9"/>
<circle cx="454.50" cy="21.07" r="1.05" fill="none" stroke="#F70A62" stroke-width="0.9"/>
<circle cx="454.50" cy="23.24" r="1.05" fill="none" stroke="#F70A62" stroke-width="0.9"/>
<circle cx="454.50" cy="26.13" r="1.05" fill="none" stroke="#F70A62" stroke-width="0.9"/>
<circle cx="451.90" cy="35.53" r="1.05" fill="none" stroke="#F70A62" stroke-width="0.9"/>
<circle cx="454.50" cy="35.53" r="1.05" fill="none" stroke="#F70A62" stroke-width="0.9"/>
<circle cx="457.10" cy="36.25" r="1.05" fill="none" stroke="#F70A62" stroke-width="0.9"/>
<circle cx="450.60" cy="44.21" r="1.05" fill="none" stroke="#F70A62" stroke-width="0.9"/>
<circle cx="453.20" cy="44.21" r="1.05" fill="none" stroke="#F70A62" stroke-width="0.9"/>
<circle cx="455.80" cy="44.93" r="1.05" fill="none" stroke="#F70A62" stroke-width="0.9"/>
<circle cx="458.40" cy="45.65" r="1.05" fill="none" stroke="#F70A62" stroke-width="0.9"/>
<circle cx="451.90" cy="47.82" r="1.05" fill="none" stroke="#F70A62" stroke-width="0.9"/>
<circle cx="454.50" cy="48.55" r="1.05" fill="none" stroke="#F70A62" stroke-width="0.9"/>
<circle cx="457.10" cy="49.27" r="1.05" fill="none" stroke="#F70A62" stroke-width="0.9"/>
<circle cx="454.50" cy="49.99" r="1.05" fill="none" stroke="#F70A62" stroke-width="0.9"/>
<circle cx="454.50" cy="52.16" r="1.05" fill="none" stroke="#F70A62" stroke-width="0.9"/>
<circle cx="454.50" cy="56.50" r="1.05" fill="none" stroke="#F70A62" stroke-width="0.9"/>
<circle cx="454.50" cy="60.11" r="1.05" fill="none" stroke="#F70A62" stroke-width="0.9"/>
<circle cx="451.90" cy="62.28" r="1.05" fill="none" stroke="#F70A62" stroke-width="0.9"/>
<circle cx="454.50" cy="62.28" r="1.05" fill="none" stroke="#F70A62" stroke-width="0.9"/>
<circle cx="457.10" cy="63.73" r="1.05" fill="none" stroke="#F70A62" stroke-width="0.9"/>
<circle cx="451.90" cy="64.45" r="1.05" fill="none" stroke="#F70A62" stroke-width="0.9"/>
<circle cx="454.50" cy="65.18" r="1.05" fill="none" stroke="#F70A62" stroke-width="0.9"/>
<circle cx="457.10" cy="65.18" r="1.05" fill="none" stroke="#F70A62" stroke-width="0.9"/>
<circle cx="451.90" cy="67.34" r="1.05" fill="none" stroke="#F70A62" stroke-width="0.9"/>
<circle cx="454.50" cy="67.34" r="1.05" fill="none" stroke="#F70A62" stroke-width="0.9"/>
<circle cx="457.10" cy="67.34" r="1.05" fill="none" stroke="#F70A62" stroke-width="0.9"/>
<circle cx="451.90" cy="70.24" r="1.05" fill="none" stroke="#F70A62" stroke-width="0.9"/>
<circle cx="454.50" cy="70.96" r="1.05" fill="none" stroke="#F70A62" stroke-width="0.9"/>
<circle cx="457.10" cy="71.68" r="1.05" fill="none" stroke="#F70A62" stroke-width="0.9"/>
<circle cx="453.20" cy="72.41" r="1.05" fill="none" stroke="#F70A62" stroke-width="0.9"/>
<circle cx="455.80" cy="72.41" r="1.05" fill="none" stroke="#F70A62" stroke-width="0.9"/>
<circle cx="453.20" cy="74.57" r="1.05" fill="none" stroke="#F70A62" stroke-width="0.9"/>
<circle cx="455.80" cy="75.30" r="1.05" fill="none" stroke="#F70A62" stroke-width="0.9"/>
<circle cx="451.90" cy="77.47" r="1.05" fill="none" stroke="#F70A62" stroke-width="0.9"/>
<circle cx="454.50" cy="77.47" r="1.05" fill="none" stroke="#F70A62" stroke-width="0.9"/>
<circle cx="457.10" cy="78.91" r="1.05" fill="none" stroke="#F70A62" stroke-width="0.9"/>
<circle cx="454.50" cy="80.36" r="1.05" fill="none" stroke="#F70A62" stroke-width="0.9"/>
<circle cx="454.50" cy="82.53" r="1.05" fill="none" stroke="#F70A62" stroke-width="0.9"/>
<circle cx="451.90" cy="86.87" r="1.05" fill="none" stroke="#F70A62" stroke-width="0.9"/>
<circle cx="454.50" cy="86.87" r="1.05" fill="none" stroke="#F70A62" stroke-width="0.9"/>
<circle cx="457.10" cy="88.31" r="1.05" fill="none" stroke="#F70A62" stroke-width="0.9"/>
<circle cx="453.20" cy="89.76" r="1.05" fill="none" stroke="#F70A62" stroke-width="0.9"/>
<circle cx="455.80" cy="90.48" r="1.05" fill="none" stroke="#F70A62" stroke-width="0.9"/>
<circle cx="453.20" cy="91.93" r="1.05" fill="none" stroke="#F70A62" stroke-width="0.9"/>
<circle cx="455.80" cy="93.37" r="1.05" fill="none" stroke="#F70A62" stroke-width="0.9"/>
<circle cx="454.50" cy="94.09" r="1.05" fill="none" stroke="#F70A62" stroke-width="0.9"/>
<line x1="376.70" y1="91.00" x2="392.40" y2="91.00" stroke="#111" stroke-width="2.0"/>
<line x1="397.00" y1="89.40" x2="409.80" y2="89.40" stroke="#F70A62" stroke-width="2.0"/>
<line x1="427.40" y1="88.10" x2="440.20" y2="88.10" stroke="#111" stroke-width="2.0"/>
<line x1="448.20" y1="67.60" x2="460.80" y2="67.60" stroke="#F70A62" stroke-width="2.0"/>
<circle cx="387.3" cy="16.9" r="1.15" fill="none" stroke="#111" stroke-width="0.95"/>
<circle cx="387.3" cy="25.9" r="1.15" fill="none" stroke="#F70A62" stroke-width="0.95"/>
<text transform="translate(394.81,19.05) scale(0.949,1)" font-size="6.25" fill="#222">Placebo</text>
<text transform="translate(395.17,28.05) scale(0.914,1)" font-size="6.25" fill="#222">Treated</text>
<text transform="translate(500.40,14.65) scale(1.006,1)" font-size="14.10" font-weight="bold" fill="#000" stroke="#000" stroke-width="0.3">D</text>
<text transform="translate(500.60,93.24) rotate(-90) scale(1.025,1)" font-size="7.85" font-weight="bold" fill="#000">PTH (pmol/L)</text>
<line x1="525.90" y1="17.50" x2="525.90" y2="120.55" stroke="#444" stroke-width="1.5"/>
<line x1="525.15" y1="119.80" x2="676.40" y2="119.80" stroke="#444" stroke-width="1.5"/>
<line x1="522.60" y1="119.80" x2="525.90" y2="119.80" stroke="#111" stroke-width="1.0"/>
<text transform="translate(519.67,121.55) scale(1.000,1)" font-size="5.09" font-weight="bold" fill="#3a3a3a">2</text>
<line x1="522.60" y1="94.30" x2="525.90" y2="94.30" stroke="#111" stroke-width="1.0"/>
<text transform="translate(519.50,96.05) scale(1.000,1)" font-size="5.09" font-weight="bold" fill="#3a3a3a">4</text>
<line x1="522.60" y1="68.80" x2="525.90" y2="68.80" stroke="#111" stroke-width="1.0"/>
<text transform="translate(519.65,70.55) scale(1.000,1)" font-size="5.09" font-weight="bold" fill="#3a3a3a">6</text>
<line x1="522.60" y1="43.10" x2="525.90" y2="43.10" stroke="#111" stroke-width="1.0"/>
<text transform="translate(519.63,44.85) scale(1.000,1)" font-size="5.09" font-weight="bold" fill="#3a3a3a">8</text>
<line x1="522.60" y1="17.50" x2="525.90" y2="17.50" stroke="#111" stroke-width="1.0"/>
<text transform="translate(516.85,19.25) scale(1.000,1)" font-size="5.09" font-weight="bold" fill="#3a3a3a">10</text>
<line x1="549.20" y1="119.80" x2="549.20" y2="123.10" stroke="#111" stroke-width="1.0"/>
<text transform="translate(538.56,128.20) scale(0.883,1)" font-size="5.81" font-weight="bold" fill="#1a1a1a" stroke="#1a1a1a" stroke-width="0.12">Baseline</text>
<line x1="583.70" y1="119.80" x2="583.70" y2="123.10" stroke="#111" stroke-width="1.0"/>
<text transform="translate(574.10,128.20) scale(0.897,1)" font-size="5.81" font-weight="bold" fill="#1a1a1a" stroke="#1a1a1a" stroke-width="0.12">Day 14*</text>
<line x1="618.20" y1="119.80" x2="618.20" y2="123.10" stroke="#111" stroke-width="1.0"/>
<text transform="translate(608.70,128.20) scale(0.888,1)" font-size="5.81" font-weight="bold" fill="#1a1a1a" stroke="#1a1a1a" stroke-width="0.12">Day 90*</text>
<line x1="652.70" y1="119.80" x2="652.70" y2="123.10" stroke="#111" stroke-width="1.0"/>
<text transform="translate(641.96,128.20) scale(0.872,1)" font-size="5.81" font-weight="bold" fill="#1a1a1a" stroke="#1a1a1a" stroke-width="0.12">Day 160*</text>
<text transform="translate(579.31,141.00) scale(0.901,1)" font-size="8.72" font-weight="bold" fill="#000">Time (days)</text>
<polyline points="549.1,91.0 583.5,52.7 618.3,73.0 652.9,81.8" fill="none" stroke="#F70A62" stroke-width="0.9"/>
<line x1="549.10" y1="87.40" x2="549.10" y2="94.80" stroke="#F70A62" stroke-width="0.9"/>
<line x1="547.10" y1="87.40" x2="551.10" y2="87.40" stroke="#F70A62" stroke-width="0.9"/>
<line x1="547.10" y1="94.80" x2="551.10" y2="94.80" stroke="#F70A62" stroke-width="0.9"/>
<line x1="583.50" y1="42.30" x2="583.50" y2="64.10" stroke="#F70A62" stroke-width="0.9"/>
<line x1="581.50" y1="42.30" x2="585.50" y2="42.30" stroke="#F70A62" stroke-width="0.9"/>
<line x1="581.50" y1="64.10" x2="585.50" y2="64.10" stroke="#F70A62" stroke-width="0.9"/>
<line x1="618.30" y1="65.40" x2="618.30" y2="80.50" stroke="#F70A62" stroke-width="0.9"/>
<line x1="616.30" y1="65.40" x2="620.30" y2="65.40" stroke="#F70A62" stroke-width="0.9"/>
<line x1="616.30" y1="80.50" x2="620.30" y2="80.50" stroke="#F70A62" stroke-width="0.9"/>
<line x1="652.90" y1="75.30" x2="652.90" y2="89.40" stroke="#F70A62" stroke-width="0.9"/>
<line x1="650.90" y1="75.30" x2="654.90" y2="75.30" stroke="#F70A62" stroke-width="0.9"/>
<line x1="650.90" y1="89.40" x2="654.90" y2="89.40" stroke="#F70A62" stroke-width="0.9"/>
<rect x="546.9" y="88.8" width="4.4" height="4.4" fill="#F70A62"/>
<rect x="581.3" y="50.5" width="4.4" height="4.4" fill="#F70A62"/>
<rect x="616.0999999999999" y="70.8" width="4.4" height="4.4" fill="#F70A62"/>
<rect x="650.6999999999999" y="79.6" width="4.4" height="4.4" fill="#F70A62"/>
<polyline points="549.1,94.4 583.5,89.3 618.3,91.7 652.9,95.5" fill="none" stroke="#111" stroke-width="0.9"/>
<line x1="549.10" y1="91.50" x2="549.10" y2="98.00" stroke="#111" stroke-width="0.9"/>
<line x1="547.10" y1="91.50" x2="551.10" y2="91.50" stroke="#111" stroke-width="0.9"/>
<line x1="547.10" y1="98.00" x2="551.10" y2="98.00" stroke="#111" stroke-width="0.9"/>
<line x1="583.50" y1="85.40" x2="583.50" y2="93.30" stroke="#111" stroke-width="0.9"/>
<line x1="581.50" y1="85.40" x2="585.50" y2="85.40" stroke="#111" stroke-width="0.9"/>
<line x1="581.50" y1="93.30" x2="585.50" y2="93.30" stroke="#111" stroke-width="0.9"/>
<line x1="618.30" y1="87.60" x2="618.30" y2="95.80" stroke="#111" stroke-width="0.9"/>
<line x1="616.30" y1="87.60" x2="620.30" y2="87.60" stroke="#111" stroke-width="0.9"/>
<line x1="616.30" y1="95.80" x2="620.30" y2="95.80" stroke="#111" stroke-width="0.9"/>
<line x1="652.90" y1="90.20" x2="652.90" y2="100.40" stroke="#111" stroke-width="0.9"/>
<line x1="650.90" y1="90.20" x2="654.90" y2="90.20" stroke="#111" stroke-width="0.9"/>
<line x1="650.90" y1="100.40" x2="654.90" y2="100.40" stroke="#111" stroke-width="0.9"/>
<circle cx="549.1" cy="94.4" r="2.25" fill="#111"/>
<circle cx="583.5" cy="89.3" r="2.25" fill="#111"/>
<circle cx="618.3" cy="91.7" r="2.25" fill="#111"/>
<circle cx="652.9" cy="95.5" r="2.25" fill="#111"/>
<line x1="639.00" y1="21.80" x2="646.20" y2="21.80" stroke="#111" stroke-width="0.9"/>
<circle cx="642.6" cy="21.8" r="1.9" fill="#111"/>
<line x1="639.00" y1="30.90" x2="646.20" y2="30.90" stroke="#F70A62" stroke-width="0.9"/>
<rect x="640.5" y="28.799999999999997" width="4.2" height="4.2" fill="#F70A62"/>
<text transform="translate(649.74,23.95) scale(0.899,1)" font-size="6.25" fill="#222">Placebo</text>
<text transform="translate(650.08,33.05) scale(0.876,1)" font-size="6.25" fill="#222">Treated</text>
<text transform="translate(13.35,169.55) scale(0.731,1)" font-size="14.39" font-weight="bold" fill="#000" stroke="#000" stroke-width="0.3">E</text>
<text transform="translate(7.20,273.53) rotate(-90) scale(0.932,1)" font-size="8.43" font-weight="bold" fill="#000">Phosphate (mmol/L)</text>
<line x1="32.40" y1="185.60" x2="32.40" y2="286.85" stroke="#444" stroke-width="1.5"/>
<line x1="31.65" y1="286.10" x2="121.00" y2="286.10" stroke="#444" stroke-width="1.5"/>
<line x1="29.10" y1="267.60" x2="32.40" y2="267.60" stroke="#111" stroke-width="1.0"/>
<text transform="translate(22.17,269.25) scale(1.000,1)" font-size="4.80" font-weight="bold" fill="#3a3a3a">0.5</text>
<line x1="29.10" y1="230.20" x2="32.40" y2="230.20" stroke="#111" stroke-width="1.0"/>
<text transform="translate(22.23,231.85) scale(1.000,1)" font-size="4.80" font-weight="bold" fill="#3a3a3a">1.0</text>
<line x1="29.10" y1="193.30" x2="32.40" y2="193.30" stroke="#111" stroke-width="1.0"/>
<text transform="translate(22.17,194.95) scale(1.000,1)" font-size="4.80" font-weight="bold" fill="#3a3a3a">1.5</text>
<line x1="53.00" y1="286.10" x2="53.00" y2="289.40" stroke="#111" stroke-width="1.0"/>
<text transform="translate(42.46,293.70) scale(0.875,1)" font-size="5.81" font-weight="bold" fill="#1a1a1a" stroke="#1a1a1a" stroke-width="0.12">Baseline</text>
<line x1="99.30" y1="286.10" x2="99.30" y2="289.40" stroke="#111" stroke-width="1.0"/>
<text transform="translate(90.84,293.70) scale(0.791,1)" font-size="5.81" font-weight="bold" fill="#1a1a1a" stroke="#1a1a1a" stroke-width="0.12">Day 90*</text>
<text transform="translate(55.61,305.80) scale(0.868,1)" font-size="8.72" font-weight="bold" fill="#000">Time (days)</text>
<circle cx="41.40" cy="217.48" r="1.05" fill="none" stroke="#111" stroke-width="0.9"/>
<circle cx="44.00" cy="217.48" r="1.05" fill="none" stroke="#111" stroke-width="0.9"/>
<circle cx="46.60" cy="218.23" r="1.05" fill="none" stroke="#111" stroke-width="0.9"/>
<circle cx="42.70" cy="218.98" r="1.05" fill="none" stroke="#111" stroke-width="0.9"/>
<circle cx="45.30" cy="219.73" r="1.05" fill="none" stroke="#111" stroke-width="0.9"/>
<circle cx="44.00" cy="220.48" r="1.05" fill="none" stroke="#111" stroke-width="0.9"/>
<circle cx="42.70" cy="221.97" r="1.05" fill="none" stroke="#111" stroke-width="0.9"/>
<circle cx="45.30" cy="221.97" r="1.05" fill="none" stroke="#111" stroke-width="0.9"/>
<circle cx="40.10" cy="227.21" r="1.05" fill="none" stroke="#111" stroke-width="0.9"/>
<circle cx="42.70" cy="227.21" r="1.05" fill="none" stroke="#111" stroke-width="0.9"/>
<circle cx="45.30" cy="227.96" r="1.05" fill="none" stroke="#111" stroke-width="0.9"/>
<circle cx="47.90" cy="227.96" r="1.05" fill="none" stroke="#111" stroke-width="0.9"/>
<circle cx="40.10" cy="228.70" r="1.05" fill="none" stroke="#111" stroke-width="0.9"/>
<circle cx="42.70" cy="228.70" r="1.05" fill="none" stroke="#111" stroke-width="0.9"/>
<circle cx="45.30" cy="229.45" r="1.05" fill="none" stroke="#111" stroke-width="0.9"/>
<circle cx="47.90" cy="229.45" r="1.05" fill="none" stroke="#111" stroke-width="0.9"/>
<circle cx="41.40" cy="232.44" r="1.05" fill="none" stroke="#111" stroke-width="0.9"/>
<circle cx="44.00" cy="232.44" r="1.05" fill="none" stroke="#111" stroke-width="0.9"/>
<circle cx="46.60" cy="233.19" r="1.05" fill="none" stroke="#111" stroke-width="0.9"/>
<circle cx="42.70" cy="233.94" r="1.05" fill="none" stroke="#111" stroke-width="0.9"/>
<circle cx="45.30" cy="234.69" r="1.05" fill="none" stroke="#111" stroke-width="0.9"/>
<circle cx="42.70" cy="235.44" r="1.05" fill="none" stroke="#111" stroke-width="0.9"/>
<circle cx="45.30" cy="235.44" r="1.05" fill="none" stroke="#111" stroke-width="0.9"/>
<circle cx="40.10" cy="238.43" r="1.05" fill="none" stroke="#111" stroke-width="0.9"/>
<circle cx="42.70" cy="238.43" r="1.05" fill="none" stroke="#111" stroke-width="0.9"/>
<circle cx="45.30" cy="238.43" r="1.05" fill="none" stroke="#111" stroke-width="0.9"/>
<circle cx="47.90" cy="238.43" r="1.05" fill="none" stroke="#111" stroke-width="0.9"/>
<circle cx="42.70" cy="240.67" r="1.05" fill="none" stroke="#111" stroke-width="0.9"/>
<circle cx="45.30" cy="240.67" r="1.05" fill="none" stroke="#111" stroke-width="0.9"/>
<circle cx="44.00" cy="243.66" r="1.05" fill="none" stroke="#111" stroke-width="0.9"/>
<circle cx="41.40" cy="245.16" r="1.05" fill="none" stroke="#111" stroke-width="0.9"/>
<circle cx="44.00" cy="245.91" r="1.05" fill="none" stroke="#111" stroke-width="0.9"/>
<circle cx="46.60" cy="245.91" r="1.05" fill="none" stroke="#111" stroke-width="0.9"/>
<circle cx="41.40" cy="246.66" r="1.05" fill="none" stroke="#111" stroke-width="0.9"/>
<circle cx="44.00" cy="247.40" r="1.05" fill="none" stroke="#111" stroke-width="0.9"/>
<circle cx="46.60" cy="247.40" r="1.05" fill="none" stroke="#111" stroke-width="0.9"/>
<circle cx="41.40" cy="248.90" r="1.05" fill="none" stroke="#111" stroke-width="0.9"/>
<circle cx="44.00" cy="248.90" r="1.05" fill="none" stroke="#111" stroke-width="0.9"/>
<circle cx="46.60" cy="249.65" r="1.05" fill="none" stroke="#111" stroke-width="0.9"/>
<circle cx="41.40" cy="251.14" r="1.05" fill="none" stroke="#111" stroke-width="0.9"/>
<circle cx="44.00" cy="251.89" r="1.05" fill="none" stroke="#111" stroke-width="0.9"/>
<circle cx="46.60" cy="251.89" r="1.05" fill="none" stroke="#111" stroke-width="0.9"/>
<circle cx="40.10" cy="253.39" r="1.05" fill="none" stroke="#111" stroke-width="0.9"/>
<circle cx="42.70" cy="253.39" r="1.05" fill="none" stroke="#111" stroke-width="0.9"/>
<circle cx="45.30" cy="254.14" r="1.05" fill="none" stroke="#111" stroke-width="0.9"/>
<circle cx="47.90" cy="254.14" r="1.05" fill="none" stroke="#111" stroke-width="0.9"/>
<circle cx="61.50" cy="216.74" r="1.05" fill="none" stroke="#F70A62" stroke-width="0.9"/>
<circle cx="61.50" cy="219.73" r="1.05" fill="none" stroke="#F70A62" stroke-width="0.9"/>
<circle cx="61.50" cy="221.22" r="1.05" fill="none" stroke="#F70A62" stroke-width="0.9"/>
<circle cx="60.20" cy="223.47" r="1.05" fill="none" stroke="#F70A62" stroke-width="0.9"/>
<circle cx="62.80" cy="223.47" r="1.05" fill="none" stroke="#F70A62" stroke-width="0.9"/>
<circle cx="61.50" cy="225.71" r="1.05" fill="none" stroke="#F70A62" stroke-width="0.9"/>
<circle cx="61.50" cy="227.21" r="1.05" fill="none" stroke="#F70A62" stroke-width="0.9"/>
<circle cx="60.20" cy="228.70" r="1.05" fill="none" stroke="#F70A62" stroke-width="0.9"/>
<circle cx="62.80" cy="228.70" r="1.05" fill="none" stroke="#F70A62" stroke-width="0.9"/>
<circle cx="58.90" cy="230.20" r="1.05" fill="none" stroke="#F70A62" stroke-width="0.9"/>
<circle cx="61.50" cy="230.20" r="1.05" fill="none" stroke="#F70A62" stroke-width="0.9"/>
<circle cx="64.10" cy="230.95" r="1.05" fill="none" stroke="#F70A62" stroke-width="0.9"/>
<circle cx="57.60" cy="231.70" r="1.05" fill="none" stroke="#F70A62" stroke-width="0.9"/>
<circle cx="60.20" cy="231.70" r="1.05" fill="none" stroke="#F70A62" stroke-width="0.9"/>
<circle cx="62.80" cy="232.44" r="1.05" fill="none" stroke="#F70A62" stroke-width="0.9"/>
<circle cx="65.40" cy="232.44" r="1.05" fill="none" stroke="#F70A62" stroke-width="0.9"/>
<circle cx="57.60" cy="233.19" r="1.05" fill="none" stroke="#F70A62" stroke-width="0.9"/>
<circle cx="60.20" cy="233.19" r="1.05" fill="none" stroke="#F70A62" stroke-width="0.9"/>
<circle cx="62.80" cy="233.94" r="1.05" fill="none" stroke="#F70A62" stroke-width="0.9"/>
<circle cx="65.40" cy="233.94" r="1.05" fill="none" stroke="#F70A62" stroke-width="0.9"/>
<circle cx="58.90" cy="234.69" r="1.05" fill="none" stroke="#F70A62" stroke-width="0.9"/>
<circle cx="61.50" cy="235.44" r="1.05" fill="none" stroke="#F70A62" stroke-width="0.9"/>
<circle cx="64.10" cy="235.44" r="1.05" fill="none" stroke="#F70A62" stroke-width="0.9"/>
<circle cx="61.50" cy="236.93" r="1.05" fill="none" stroke="#F70A62" stroke-width="0.9"/>
<circle cx="55.00" cy="238.43" r="1.05" fill="none" stroke="#F70A62" stroke-width="0.9"/>
<circle cx="57.60" cy="239.18" r="1.05" fill="none" stroke="#F70A62" stroke-width="0.9"/>
<circle cx="60.20" cy="239.18" r="1.05" fill="none" stroke="#F70A62" stroke-width="0.9"/>
<circle cx="62.80" cy="239.18" r="1.05" fill="none" stroke="#F70A62" stroke-width="0.9"/>
<circle cx="65.40" cy="239.18" r="1.05" fill="none" stroke="#F70A62" stroke-width="0.9"/>
<circle cx="68.00" cy="239.18" r="1.05" fill="none" stroke="#F70A62" stroke-width="0.9"/>
<circle cx="60.20" cy="240.67" r="1.05" fill="none" stroke="#F70A62" stroke-width="0.9"/>
<circle cx="62.80" cy="241.42" r="1.05" fill="none" stroke="#F70A62" stroke-width="0.9"/>
<circle cx="60.20" cy="242.17" r="1.05" fill="none" stroke="#F70A62" stroke-width="0.9"/>
<circle cx="62.80" cy="242.92" r="1.05" fill="none" stroke="#F70A62" stroke-width="0.9"/>
<circle cx="60.20" cy="247.40" r="1.05" fill="none" stroke="#F70A62" stroke-width="0.9"/>
<circle cx="62.80" cy="248.15" r="1.05" fill="none" stroke="#F70A62" stroke-width="0.9"/>
<circle cx="58.90" cy="249.65" r="1.05" fill="none" stroke="#F70A62" stroke-width="0.9"/>
<circle cx="61.50" cy="250.40" r="1.05" fill="none" stroke="#F70A62" stroke-width="0.9"/>
<circle cx="64.10" cy="250.40" r="1.05" fill="none" stroke="#F70A62" stroke-width="0.9"/>
<circle cx="60.20" cy="251.14" r="1.05" fill="none" stroke="#F70A62" stroke-width="0.9"/>
<circle cx="62.80" cy="251.89" r="1.05" fill="none" stroke="#F70A62" stroke-width="0.9"/>
<circle cx="58.90" cy="252.64" r="1.05" fill="none" stroke="#F70A62" stroke-width="0.9"/>
<circle cx="61.50" cy="253.39" r="1.05" fill="none" stroke="#F70A62" stroke-width="0.9"/>
<circle cx="64.10" cy="253.39" r="1.05" fill="none" stroke="#F70A62" stroke-width="0.9"/>
<circle cx="60.20" cy="256.38" r="1.05" fill="none" stroke="#F70A62" stroke-width="0.9"/>
<circle cx="62.80" cy="257.13" r="1.05" fill="none" stroke="#F70A62" stroke-width="0.9"/>
<circle cx="91.00" cy="199.53" r="1.05" fill="none" stroke="#111" stroke-width="0.9"/>
<circle cx="89.70" cy="204.77" r="1.05" fill="none" stroke="#111" stroke-width="0.9"/>
<circle cx="92.30" cy="204.77" r="1.05" fill="none" stroke="#111" stroke-width="0.9"/>
<circle cx="88.40" cy="223.47" r="1.05" fill="none" stroke="#111" stroke-width="0.9"/>
<circle cx="91.00" cy="224.22" r="1.05" fill="none" stroke="#111" stroke-width="0.9"/>
<circle cx="93.60" cy="224.22" r="1.05" fill="none" stroke="#111" stroke-width="0.9"/>
<circle cx="88.40" cy="225.71" r="1.05" fill="none" stroke="#111" stroke-width="0.9"/>
<circle cx="91.00" cy="225.71" r="1.05" fill="none" stroke="#111" stroke-width="0.9"/>
<circle cx="93.60" cy="226.46" r="1.05" fill="none" stroke="#111" stroke-width="0.9"/>
<circle cx="91.00" cy="227.96" r="1.05" fill="none" stroke="#111" stroke-width="0.9"/>
<circle cx="89.70" cy="229.45" r="1.05" fill="none" stroke="#111" stroke-width="0.9"/>
<circle cx="92.30" cy="230.20" r="1.05" fill="none" stroke="#111" stroke-width="0.9"/>
<circle cx="88.40" cy="230.95" r="1.05" fill="none" stroke="#111" stroke-width="0.9"/>
<circle cx="91.00" cy="231.70" r="1.05" fill="none" stroke="#111" stroke-width="0.9"/>
<circle cx="93.60" cy="231.70" r="1.05" fill="none" stroke="#111" stroke-width="0.9"/>
<circle cx="91.00" cy="232.44" r="1.05" fill="none" stroke="#111" stroke-width="0.9"/>
<circle cx="91.00" cy="233.94" r="1.05" fill="none" stroke="#111" stroke-width="0.9"/>
<circle cx="84.50" cy="235.44" r="1.05" fill="none" stroke="#111" stroke-width="0.9"/>
<circle cx="87.10" cy="235.44" r="1.05" fill="none" stroke="#111" stroke-width="0.9"/>
<circle cx="89.70" cy="235.44" r="1.05" fill="none" stroke="#111" stroke-width="0.9"/>
<circle cx="92.30" cy="235.44" r="1.05" fill="none" stroke="#111" stroke-width="0.9"/>
<circle cx="94.90" cy="236.18" r="1.05" fill="none" stroke="#111" stroke-width="0.9"/>
<circle cx="97.50" cy="236.18" r="1.05" fill="none" stroke="#111" stroke-width="0.9"/>
<circle cx="88.40" cy="237.68" r="1.05" fill="none" stroke="#111" stroke-width="0.9"/>
<circle cx="91.00" cy="237.68" r="1.05" fill="none" stroke="#111" stroke-width="0.9"/>
<circle cx="93.60" cy="238.43" r="1.05" fill="none" stroke="#111" stroke-width="0.9"/>
<circle cx="89.70" cy="239.18" r="1.05" fill="none" stroke="#111" stroke-width="0.9"/>
<circle cx="92.30" cy="239.92" r="1.05" fill="none" stroke="#111" stroke-width="0.9"/>
<circle cx="91.00" cy="242.17" r="1.05" fill="none" stroke="#111" stroke-width="0.9"/>
<circle cx="91.00" cy="244.41" r="1.05" fill="none" stroke="#111" stroke-width="0.9"/>
<circle cx="88.40" cy="245.91" r="1.05" fill="none" stroke="#111" stroke-width="0.9"/>
<circle cx="91.00" cy="246.66" r="1.05" fill="none" stroke="#111" stroke-width="0.9"/>
<circle cx="93.60" cy="246.66" r="1.05" fill="none" stroke="#111" stroke-width="0.9"/>
<circle cx="89.70" cy="247.40" r="1.05" fill="none" stroke="#111" stroke-width="0.9"/>
<circle cx="92.30" cy="248.15" r="1.05" fill="none" stroke="#111" stroke-width="0.9"/>
<circle cx="91.00" cy="248.90" r="1.05" fill="none" stroke="#111" stroke-width="0.9"/>
<circle cx="89.70" cy="250.40" r="1.05" fill="none" stroke="#111" stroke-width="0.9"/>
<circle cx="92.30" cy="251.14" r="1.05" fill="none" stroke="#111" stroke-width="0.9"/>
<circle cx="89.70" cy="251.89" r="1.05" fill="none" stroke="#111" stroke-width="0.9"/>
<circle cx="92.30" cy="252.64" r="1.05" fill="none" stroke="#111" stroke-width="0.9"/>
<circle cx="91.00" cy="254.14" r="1.05" fill="none" stroke="#111" stroke-width="0.9"/>
<circle cx="88.40" cy="257.88" r="1.05" fill="none" stroke="#111" stroke-width="0.9"/>
<circle cx="91.00" cy="257.88" r="1.05" fill="none" stroke="#111" stroke-width="0.9"/>
<circle cx="93.60" cy="257.88" r="1.05" fill="none" stroke="#111" stroke-width="0.9"/>
<circle cx="108.00" cy="223.47" r="1.05" fill="none" stroke="#F70A62" stroke-width="0.9"/>
<circle cx="106.70" cy="227.21" r="1.05" fill="none" stroke="#F70A62" stroke-width="0.9"/>
<circle cx="109.30" cy="227.96" r="1.05" fill="none" stroke="#F70A62" stroke-width="0.9"/>
<circle cx="105.40" cy="233.94" r="1.05" fill="none" stroke="#F70A62" stroke-width="0.9"/>
<circle cx="108.00" cy="233.94" r="1.05" fill="none" stroke="#F70A62" stroke-width="0.9"/>
<circle cx="110.60" cy="234.69" r="1.05" fill="none" stroke="#F70A62" stroke-width="0.9"/>
<circle cx="106.70" cy="236.93" r="1.05" fill="none" stroke="#F70A62" stroke-width="0.9"/>
<circle cx="109.30" cy="237.68" r="1.05" fill="none" stroke="#F70A62" stroke-width="0.9"/>
<circle cx="105.40" cy="239.18" r="1.05" fill="none" stroke="#F70A62" stroke-width="0.9"/>
<circle cx="108.00" cy="239.92" r="1.05" fill="none" stroke="#F70A62" stroke-width="0.9"/>
<circle cx="110.60" cy="239.92" r="1.05" fill="none" stroke="#F70A62" stroke-width="0.9"/>
<circle cx="106.70" cy="240.67" r="1.05" fill="none" stroke="#F70A62" stroke-width="0.9"/>
<circle cx="109.30" cy="241.42" r="1.05" fill="none" stroke="#F70A62" stroke-width="0.9"/>
<circle cx="105.40" cy="242.17" r="1.05" fill="none" stroke="#F70A62" stroke-width="0.9"/>
<circle cx="108.00" cy="242.92" r="1.05" fill="none" stroke="#F70A62" stroke-width="0.9"/>
<circle cx="110.60" cy="242.92" r="1.05" fill="none" stroke="#F70A62" stroke-width="0.9"/>
<circle cx="106.70" cy="243.66" r="1.05" fill="none" stroke="#F70A62" stroke-width="0.9"/>
<circle cx="109.30" cy="244.41" r="1.05" fill="none" stroke="#F70A62" stroke-width="0.9"/>
<circle cx="108.00" cy="245.91" r="1.05" fill="none" stroke="#F70A62" stroke-width="0.9"/>
<circle cx="105.40" cy="247.40" r="1.05" fill="none" stroke="#F70A62" stroke-width="0.9"/>
<circle cx="108.00" cy="247.40" r="1.05" fill="none" stroke="#F70A62" stroke-width="0.9"/>
<circle cx="110.60" cy="248.15" r="1.05" fill="none" stroke="#F70A62" stroke-width="0.9"/>
<circle cx="105.40" cy="248.90" r="1.05" fill="none" stroke="#F70A62" stroke-width="0.9"/>
<circle cx="108.00" cy="248.90" r="1.05" fill="none" stroke="#F70A62" stroke-width="0.9"/>
<circle cx="110.60" cy="249.65" r="1.05" fill="none" stroke="#F70A62" stroke-width="0.9"/>
<circle cx="108.00" cy="250.40" r="1.05" fill="none" stroke="#F70A62" stroke-width="0.9"/>
<circle cx="105.40" cy="252.64" r="1.05" fill="none" stroke="#F70A62" stroke-width="0.9"/>
<circle cx="108.00" cy="252.64" r="1.05" fill="none" stroke="#F70A62" stroke-width="0.9"/>
<circle cx="110.60" cy="253.39" r="1.05" fill="none" stroke="#F70A62" stroke-width="0.9"/>
<circle cx="106.70" cy="254.14" r="1.05" fill="none" stroke="#F70A62" stroke-width="0.9"/>
<circle cx="109.30" cy="254.14" r="1.05" fill="none" stroke="#F70A62" stroke-width="0.9"/>
<circle cx="106.70" cy="255.63" r="1.05" fill="none" stroke="#F70A62" stroke-width="0.9"/>
<circle cx="109.30" cy="255.63" r="1.05" fill="none" stroke="#F70A62" stroke-width="0.9"/>
<circle cx="108.00" cy="257.13" r="1.05" fill="none" stroke="#F70A62" stroke-width="0.9"/>
<circle cx="105.40" cy="260.12" r="1.05" fill="none" stroke="#F70A62" stroke-width="0.9"/>
<circle cx="108.00" cy="260.87" r="1.05" fill="none" stroke="#F70A62" stroke-width="0.9"/>
<circle cx="110.60" cy="260.87" r="1.05" fill="none" stroke="#F70A62" stroke-width="0.9"/>
<circle cx="105.40" cy="262.36" r="1.05" fill="none" stroke="#F70A62" stroke-width="0.9"/>
<circle cx="108.00" cy="262.36" r="1.05" fill="none" stroke="#F70A62" stroke-width="0.9"/>
<circle cx="110.60" cy="263.11" r="1.05" fill="none" stroke="#F70A62" stroke-width="0.9"/>
<circle cx="108.00" cy="265.36" r="1.05" fill="none" stroke="#F70A62" stroke-width="0.9"/>
<circle cx="106.70" cy="266.85" r="1.05" fill="none" stroke="#F70A62" stroke-width="0.9"/>
<circle cx="109.30" cy="267.60" r="1.05" fill="none" stroke="#F70A62" stroke-width="0.9"/>
<circle cx="106.70" cy="268.35" r="1.05" fill="none" stroke="#F70A62" stroke-width="0.9"/>
<circle cx="109.30" cy="269.10" r="1.05" fill="none" stroke="#F70A62" stroke-width="0.9"/>
<circle cx="108.00" cy="280.32" r="1.05" fill="none" stroke="#F70A62" stroke-width="0.9"/>
<line x1="37.50" y1="237.40" x2="49.60" y2="237.40" stroke="#111" stroke-width="2.0"/>
<line x1="54.40" y1="238.60" x2="69.00" y2="238.60" stroke="#F70A62" stroke-width="2.0"/>
<line x1="85.00" y1="238.50" x2="97.10" y2="238.50" stroke="#111" stroke-width="2.0"/>
<line x1="101.50" y1="248.90" x2="115.50" y2="248.90" stroke="#F70A62" stroke-width="2.0"/>
<circle cx="48.5" cy="192.3" r="1.15" fill="none" stroke="#111" stroke-width="0.95"/>
<circle cx="48.5" cy="200.8" r="1.15" fill="none" stroke="#F70A62" stroke-width="0.95"/>
<text transform="translate(55.46,194.45) scale(0.857,1)" font-size="6.25" fill="#222">Placebo</text>
<text transform="translate(55.78,202.95) scale(0.829,1)" font-size="6.25" fill="#222">Treated</text>
<text transform="translate(160.29,166.45) scale(0.690,1)" font-size="16.57" font-weight="bold" fill="#000" stroke="#000" stroke-width="0.3">F</text>
<text transform="translate(155.60,272.97) rotate(-90) scale(0.924,1)" font-size="9.16" font-weight="bold" fill="#000">Phosphate (mmol/L)</text>
<line x1="183.30" y1="179.40" x2="183.30" y2="286.45" stroke="#444" stroke-width="1.5"/>
<line x1="182.55" y1="285.70" x2="326.60" y2="285.70" stroke="#444" stroke-width="1.5"/>
<line x1="180.00" y1="285.70" x2="183.30" y2="285.70" stroke="#111" stroke-width="1.0"/>
<text transform="translate(172.21,287.45) scale(1.000,1)" font-size="5.09" font-weight="bold" fill="#3a3a3a">0.6</text>
<line x1="180.00" y1="250.40" x2="183.30" y2="250.40" stroke="#111" stroke-width="1.0"/>
<text transform="translate(172.18,252.15) scale(1.000,1)" font-size="5.09" font-weight="bold" fill="#3a3a3a">0.8</text>
<line x1="180.00" y1="214.80" x2="183.30" y2="214.80" stroke="#111" stroke-width="1.0"/>
<text transform="translate(172.24,216.55) scale(1.000,1)" font-size="5.09" font-weight="bold" fill="#3a3a3a">1.0</text>
<line x1="180.00" y1="179.40" x2="183.30" y2="179.40" stroke="#111" stroke-width="1.0"/>
<text transform="translate(172.23,181.15) scale(1.000,1)" font-size="5.09" font-weight="bold" fill="#3a3a3a">1.2</text>
<line x1="212.10" y1="285.70" x2="212.10" y2="289.00" stroke="#111" stroke-width="1.0"/>
<text transform="translate(201.09,294.70) scale(0.913,1)" font-size="5.81" font-weight="bold" fill="#1a1a1a" stroke="#1a1a1a" stroke-width="0.12">Baseline</text>
<line x1="255.20" y1="285.70" x2="255.20" y2="289.00" stroke="#111" stroke-width="1.0"/>
<text transform="translate(245.60,294.70) scale(0.897,1)" font-size="5.81" font-weight="bold" fill="#1a1a1a" stroke="#1a1a1a" stroke-width="0.12">Day 90*</text>
<line x1="298.10" y1="285.70" x2="298.10" y2="289.00" stroke="#111" stroke-width="1.0"/>
<text transform="translate(287.26,294.70) scale(0.881,1)" font-size="5.81" font-weight="bold" fill="#1a1a1a" stroke="#1a1a1a" stroke-width="0.12">Day 160*</text>
<text transform="translate(232.71,307.40) scale(0.926,1)" font-size="8.72" font-weight="bold" fill="#000">Time (days)</text>
<polyline points="211.9,234.7 255.2,259.6 298.1,252.8" fill="none" stroke="#F70A62" stroke-width="0.9"/>
<line x1="211.90" y1="228.00" x2="211.90" y2="242.00" stroke="#F70A62" stroke-width="0.9"/>
<line x1="209.90" y1="228.00" x2="213.90" y2="228.00" stroke="#F70A62" stroke-width="0.9"/>
<line x1="209.90" y1="242.00" x2="213.90" y2="242.00" stroke="#F70A62" stroke-width="0.9"/>
<line x1="255.20" y1="251.10" x2="255.20" y2="268.60" stroke="#F70A62" stroke-width="0.9"/>
<line x1="253.20" y1="251.10" x2="257.20" y2="251.10" stroke="#F70A62" stroke-width="0.9"/>
<line x1="253.20" y1="268.60" x2="257.20" y2="268.60" stroke="#F70A62" stroke-width="0.9"/>
<line x1="298.10" y1="245.60" x2="298.10" y2="260.10" stroke="#F70A62" stroke-width="0.9"/>
<line x1="296.10" y1="245.60" x2="300.10" y2="245.60" stroke="#F70A62" stroke-width="0.9"/>
<line x1="296.10" y1="260.10" x2="300.10" y2="260.10" stroke="#F70A62" stroke-width="0.9"/>
<rect x="209.70000000000002" y="232.5" width="4.4" height="4.4" fill="#F70A62"/>
<rect x="253.0" y="257.40000000000003" width="4.4" height="4.4" fill="#F70A62"/>
<rect x="295.90000000000003" y="250.60000000000002" width="4.4" height="4.4" fill="#F70A62"/>
<polyline points="211.9,232.3 255.2,232.9 298.1,231.7" fill="none" stroke="#111" stroke-width="0.9"/>
<line x1="211.90" y1="225.00" x2="211.90" y2="240.00" stroke="#111" stroke-width="0.9"/>
<line x1="209.90" y1="225.00" x2="213.90" y2="225.00" stroke="#111" stroke-width="0.9"/>
<line x1="209.90" y1="240.00" x2="213.90" y2="240.00" stroke="#111" stroke-width="0.9"/>
<line x1="255.20" y1="223.20" x2="255.20" y2="242.10" stroke="#111" stroke-width="0.9"/>
<line x1="253.20" y1="223.20" x2="257.20" y2="223.20" stroke="#111" stroke-width="0.9"/>
<line x1="253.20" y1="242.10" x2="257.20" y2="242.10" stroke="#111" stroke-width="0.9"/>
<line x1="298.10" y1="224.40" x2="298.10" y2="239.00" stroke="#111" stroke-width="0.9"/>
<line x1="296.10" y1="224.40" x2="300.10" y2="224.40" stroke="#111" stroke-width="0.9"/>
<line x1="296.10" y1="239.00" x2="300.10" y2="239.00" stroke="#111" stroke-width="0.9"/>
<circle cx="211.9" cy="232.3" r="2.25" fill="#111"/>
<circle cx="255.2" cy="232.9" r="2.25" fill="#111"/>
<circle cx="298.1" cy="231.7" r="2.25" fill="#111"/>
<line x1="286.40" y1="183.50" x2="293.60" y2="183.50" stroke="#111" stroke-width="0.9"/>
<circle cx="290.0" cy="183.5" r="1.9" fill="#111"/>
<line x1="286.40" y1="192.70" x2="293.60" y2="192.70" stroke="#F70A62" stroke-width="0.9"/>
<rect x="287.9" y="190.6" width="4.2" height="4.2" fill="#F70A62"/>
<text transform="translate(297.42,185.65) scale(0.931,1)" font-size="6.25" fill="#222">Placebo</text>
<text transform="translate(297.77,194.85) scale(0.895,1)" font-size="6.25" fill="#222">Treated</text>
<text transform="translate(350.48,163.49) scale(0.841,1)" font-size="16.38" font-weight="bold" fill="#000" stroke="#000" stroke-width="0.3">G</text>
<text transform="translate(346.00,284.01) rotate(-90) scale(0.888,1)" font-size="9.30" font-weight="bold" fill="#000">Alkaline Phosphatase (U/L)</text>
<line x1="374.90" y1="177.40" x2="374.90" y2="286.35" stroke="#444" stroke-width="1.5"/>
<line x1="374.15" y1="285.60" x2="471.00" y2="285.60" stroke="#444" stroke-width="1.5"/>
<line x1="371.60" y1="285.60" x2="374.90" y2="285.60" stroke="#111" stroke-width="1.0"/>
<text transform="translate(368.20,287.40) scale(1.000,1)" font-size="5.23" font-weight="bold" fill="#3a3a3a">0</text>
<line x1="371.60" y1="249.20" x2="374.90" y2="249.20" stroke="#111" stroke-width="1.0"/>
<text transform="translate(365.29,251.00) scale(1.000,1)" font-size="5.23" font-weight="bold" fill="#3a3a3a">50</text>
<line x1="371.60" y1="213.30" x2="374.90" y2="213.30" stroke="#111" stroke-width="1.0"/>
<text transform="translate(362.38,215.10) scale(1.000,1)" font-size="5.23" font-weight="bold" fill="#3a3a3a">100</text>
<line x1="371.60" y1="177.40" x2="374.90" y2="177.40" stroke="#111" stroke-width="1.0"/>
<text transform="translate(362.38,179.20) scale(1.000,1)" font-size="5.23" font-weight="bold" fill="#3a3a3a">150</text>
<line x1="397.40" y1="285.60" x2="397.40" y2="288.90" stroke="#111" stroke-width="1.0"/>
<text transform="translate(386.50,294.40) scale(0.905,1)" font-size="5.81" font-weight="bold" fill="#1a1a1a" stroke="#1a1a1a" stroke-width="0.12">Baseline</text>
<line x1="447.50" y1="285.60" x2="447.50" y2="288.90" stroke="#111" stroke-width="1.0"/>
<text transform="translate(438.16,294.40) scale(0.873,1)" font-size="5.81" font-weight="bold" fill="#1a1a1a" stroke="#1a1a1a" stroke-width="0.12">Day 90*</text>
<text transform="translate(400.21,306.90) scale(0.928,1)" font-size="8.72" font-weight="bold" fill="#000">Time (days)</text>
<circle cx="387.40" cy="202.91" r="1.05" fill="none" stroke="#111" stroke-width="0.9"/>
<circle cx="387.40" cy="205.80" r="1.05" fill="none" stroke="#111" stroke-width="0.9"/>
<circle cx="387.40" cy="223.87" r="1.05" fill="none" stroke="#111" stroke-width="0.9"/>
<circle cx="386.10" cy="225.32" r="1.05" fill="none" stroke="#111" stroke-width="0.9"/>
<circle cx="388.70" cy="226.04" r="1.05" fill="none" stroke="#111" stroke-width="0.9"/>
<circle cx="386.10" cy="227.48" r="1.05" fill="none" stroke="#111" stroke-width="0.9"/>
<circle cx="388.70" cy="228.21" r="1.05" fill="none" stroke="#111" stroke-width="0.9"/>
<circle cx="387.40" cy="229.65" r="1.05" fill="none" stroke="#111" stroke-width="0.9"/>
<circle cx="384.80" cy="231.10" r="1.05" fill="none" stroke="#111" stroke-width="0.9"/>
<circle cx="387.40" cy="231.82" r="1.05" fill="none" stroke="#111" stroke-width="0.9"/>
<circle cx="390.00" cy="231.82" r="1.05" fill="none" stroke="#111" stroke-width="0.9"/>
<circle cx="387.40" cy="233.27" r="1.05" fill="none" stroke="#111" stroke-width="0.9"/>
<circle cx="383.50" cy="235.43" r="1.05" fill="none" stroke="#111" stroke-width="0.9"/>
<circle cx="386.10" cy="236.16" r="1.05" fill="none" stroke="#111" stroke-width="0.9"/>
<circle cx="388.70" cy="236.16" r="1.05" fill="none" stroke="#111" stroke-width="0.9"/>
<circle cx="391.30" cy="236.16" r="1.05" fill="none" stroke="#111" stroke-width="0.9"/>
<circle cx="383.50" cy="237.60" r="1.05" fill="none" stroke="#111" stroke-width="0.9"/>
<circle cx="386.10" cy="237.60" r="1.05" fill="none" stroke="#111" stroke-width="0.9"/>
<circle cx="388.70" cy="237.60" r="1.05" fill="none" stroke="#111" stroke-width="0.9"/>
<circle cx="391.30" cy="238.32" r="1.05" fill="none" stroke="#111" stroke-width="0.9"/>
<circle cx="384.80" cy="239.05" r="1.05" fill="none" stroke="#111" stroke-width="0.9"/>
<circle cx="387.40" cy="239.05" r="1.05" fill="none" stroke="#111" stroke-width="0.9"/>
<circle cx="390.00" cy="239.05" r="1.05" fill="none" stroke="#111" stroke-width="0.9"/>
<circle cx="384.80" cy="240.49" r="1.05" fill="none" stroke="#111" stroke-width="0.9"/>
<circle cx="387.40" cy="241.22" r="1.05" fill="none" stroke="#111" stroke-width="0.9"/>
<circle cx="390.00" cy="241.22" r="1.05" fill="none" stroke="#111" stroke-width="0.9"/>
<circle cx="384.80" cy="241.94" r="1.05" fill="none" stroke="#111" stroke-width="0.9"/>
<circle cx="387.40" cy="241.94" r="1.05" fill="none" stroke="#111" stroke-width="0.9"/>
<circle cx="390.00" cy="242.66" r="1.05" fill="none" stroke="#111" stroke-width="0.9"/>
<circle cx="386.10" cy="244.11" r="1.05" fill="none" stroke="#111" stroke-width="0.9"/>
<circle cx="388.70" cy="244.83" r="1.05" fill="none" stroke="#111" stroke-width="0.9"/>
<circle cx="386.10" cy="245.55" r="1.05" fill="none" stroke="#111" stroke-width="0.9"/>
<circle cx="388.70" cy="245.55" r="1.05" fill="none" stroke="#111" stroke-width="0.9"/>
<circle cx="384.80" cy="247.00" r="1.05" fill="none" stroke="#111" stroke-width="0.9"/>
<circle cx="387.40" cy="247.00" r="1.05" fill="none" stroke="#111" stroke-width="0.9"/>
<circle cx="390.00" cy="247.00" r="1.05" fill="none" stroke="#111" stroke-width="0.9"/>
<circle cx="386.10" cy="248.44" r="1.05" fill="none" stroke="#111" stroke-width="0.9"/>
<circle cx="388.70" cy="249.17" r="1.05" fill="none" stroke="#111" stroke-width="0.9"/>
<circle cx="387.40" cy="249.89" r="1.05" fill="none" stroke="#111" stroke-width="0.9"/>
<circle cx="384.80" cy="252.06" r="1.05" fill="none" stroke="#111" stroke-width="0.9"/>
<circle cx="387.40" cy="252.06" r="1.05" fill="none" stroke="#111" stroke-width="0.9"/>
<circle cx="390.00" cy="252.78" r="1.05" fill="none" stroke="#111" stroke-width="0.9"/>
<circle cx="386.10" cy="255.67" r="1.05" fill="none" stroke="#111" stroke-width="0.9"/>
<circle cx="388.70" cy="256.39" r="1.05" fill="none" stroke="#111" stroke-width="0.9"/>
<circle cx="387.40" cy="257.84" r="1.05" fill="none" stroke="#111" stroke-width="0.9"/>
<circle cx="387.40" cy="262.90" r="1.05" fill="none" stroke="#111" stroke-width="0.9"/>
<circle cx="406.00" cy="206.53" r="1.05" fill="none" stroke="#F70A62" stroke-width="0.9"/>
<circle cx="406.00" cy="217.37" r="1.05" fill="none" stroke="#F70A62" stroke-width="0.9"/>
<circle cx="402.10" cy="220.98" r="1.05" fill="none" stroke="#F70A62" stroke-width="0.9"/>
<circle cx="404.70" cy="221.70" r="1.05" fill="none" stroke="#F70A62" stroke-width="0.9"/>
<circle cx="407.30" cy="222.43" r="1.05" fill="none" stroke="#F70A62" stroke-width="0.9"/>
<circle cx="409.90" cy="222.43" r="1.05" fill="none" stroke="#F70A62" stroke-width="0.9"/>
<circle cx="402.10" cy="225.32" r="1.05" fill="none" stroke="#F70A62" stroke-width="0.9"/>
<circle cx="404.70" cy="226.04" r="1.05" fill="none" stroke="#F70A62" stroke-width="0.9"/>
<circle cx="407.30" cy="226.76" r="1.05" fill="none" stroke="#F70A62" stroke-width="0.9"/>
<circle cx="409.90" cy="226.76" r="1.05" fill="none" stroke="#F70A62" stroke-width="0.9"/>
<circle cx="404.70" cy="231.82" r="1.05" fill="none" stroke="#F70A62" stroke-width="0.9"/>
<circle cx="407.30" cy="233.27" r="1.05" fill="none" stroke="#F70A62" stroke-width="0.9"/>
<circle cx="404.70" cy="235.43" r="1.05" fill="none" stroke="#F70A62" stroke-width="0.9"/>
<circle cx="407.30" cy="235.43" r="1.05" fill="none" stroke="#F70A62" stroke-width="0.9"/>
<circle cx="400.80" cy="237.60" r="1.05" fill="none" stroke="#F70A62" stroke-width="0.9"/>
<circle cx="403.40" cy="238.32" r="1.05" fill="none" stroke="#F70A62" stroke-width="0.9"/>
<circle cx="406.00" cy="238.32" r="1.05" fill="none" stroke="#F70A62" stroke-width="0.9"/>
<circle cx="408.60" cy="238.32" r="1.05" fill="none" stroke="#F70A62" stroke-width="0.9"/>
<circle cx="411.20" cy="239.05" r="1.05" fill="none" stroke="#F70A62" stroke-width="0.9"/>
<circle cx="400.80" cy="239.77" r="1.05" fill="none" stroke="#F70A62" stroke-width="0.9"/>
<circle cx="403.40" cy="239.77" r="1.05" fill="none" stroke="#F70A62" stroke-width="0.9"/>
<circle cx="406.00" cy="240.49" r="1.05" fill="none" stroke="#F70A62" stroke-width="0.9"/>
<circle cx="408.60" cy="240.49" r="1.05" fill="none" stroke="#F70A62" stroke-width="0.9"/>
<circle cx="411.20" cy="241.22" r="1.05" fill="none" stroke="#F70A62" stroke-width="0.9"/>
<circle cx="400.80" cy="242.66" r="1.05" fill="none" stroke="#F70A62" stroke-width="0.9"/>
<circle cx="403.40" cy="242.66" r="1.05" fill="none" stroke="#F70A62" stroke-width="0.9"/>
<circle cx="406.00" cy="243.38" r="1.05" fill="none" stroke="#F70A62" stroke-width="0.9"/>
<circle cx="408.60" cy="244.11" r="1.05" fill="none" stroke="#F70A62" stroke-width="0.9"/>
<circle cx="411.20" cy="244.11" r="1.05" fill="none" stroke="#F70A62" stroke-width="0.9"/>
<circle cx="399.50" cy="244.83" r="1.05" fill="none" stroke="#F70A62" stroke-width="0.9"/>
<circle cx="402.10" cy="245.55" r="1.05" fill="none" stroke="#F70A62" stroke-width="0.9"/>
<circle cx="404.70" cy="245.55" r="1.05" fill="none" stroke="#F70A62" stroke-width="0.9"/>
<circle cx="407.30" cy="246.27" r="1.05" fill="none" stroke="#F70A62" stroke-width="0.9"/>
<circle cx="409.90" cy="246.27" r="1.05" fill="none" stroke="#F70A62" stroke-width="0.9"/>
<circle cx="412.50" cy="246.27" r="1.05" fill="none" stroke="#F70A62" stroke-width="0.9"/>
<circle cx="403.40" cy="248.44" r="1.05" fill="none" stroke="#F70A62" stroke-width="0.9"/>
<circle cx="406.00" cy="248.44" r="1.05" fill="none" stroke="#F70A62" stroke-width="0.9"/>
<circle cx="408.60" cy="248.44" r="1.05" fill="none" stroke="#F70A62" stroke-width="0.9"/>
<circle cx="404.70" cy="251.33" r="1.05" fill="none" stroke="#F70A62" stroke-width="0.9"/>
<circle cx="407.30" cy="252.78" r="1.05" fill="none" stroke="#F70A62" stroke-width="0.9"/>
<circle cx="404.70" cy="253.50" r="1.05" fill="none" stroke="#F70A62" stroke-width="0.9"/>
<circle cx="407.30" cy="254.22" r="1.05" fill="none" stroke="#F70A62" stroke-width="0.9"/>
<circle cx="402.10" cy="257.11" r="1.05" fill="none" stroke="#F70A62" stroke-width="0.9"/>
<circle cx="404.70" cy="257.84" r="1.05" fill="none" stroke="#F70A62" stroke-width="0.9"/>
<circle cx="407.30" cy="257.84" r="1.05" fill="none" stroke="#F70A62" stroke-width="0.9"/>
<circle cx="409.90" cy="258.56" r="1.05" fill="none" stroke="#F70A62" stroke-width="0.9"/>
<circle cx="403.40" cy="259.28" r="1.05" fill="none" stroke="#F70A62" stroke-width="0.9"/>
<circle cx="406.00" cy="260.01" r="1.05" fill="none" stroke="#F70A62" stroke-width="0.9"/>
<circle cx="408.60" cy="260.73" r="1.05" fill="none" stroke="#F70A62" stroke-width="0.9"/>
<circle cx="406.00" cy="262.90" r="1.05" fill="none" stroke="#F70A62" stroke-width="0.9"/>
<circle cx="438.30" cy="204.36" r="1.05" fill="none" stroke="#111" stroke-width="0.9"/>
<circle cx="438.30" cy="209.42" r="1.05" fill="none" stroke="#111" stroke-width="0.9"/>
<circle cx="438.30" cy="218.09" r="1.05" fill="none" stroke="#111" stroke-width="0.9"/>
<circle cx="434.40" cy="225.32" r="1.05" fill="none" stroke="#111" stroke-width="0.9"/>
<circle cx="437.00" cy="226.04" r="1.05" fill="none" stroke="#111" stroke-width="0.9"/>
<circle cx="439.60" cy="226.04" r="1.05" fill="none" stroke="#111" stroke-width="0.9"/>
<circle cx="442.20" cy="226.04" r="1.05" fill="none" stroke="#111" stroke-width="0.9"/>
<circle cx="433.10" cy="230.37" r="1.05" fill="none" stroke="#111" stroke-width="0.9"/>
<circle cx="435.70" cy="230.37" r="1.05" fill="none" stroke="#111" stroke-width="0.9"/>
<circle cx="438.30" cy="231.10" r="1.05" fill="none" stroke="#111" stroke-width="0.9"/>
<circle cx="440.90" cy="231.10" r="1.05" fill="none" stroke="#111" stroke-width="0.9"/>
<circle cx="443.50" cy="231.10" r="1.05" fill="none" stroke="#111" stroke-width="0.9"/>
<circle cx="437.00" cy="231.82" r="1.05" fill="none" stroke="#111" stroke-width="0.9"/>
<circle cx="439.60" cy="231.82" r="1.05" fill="none" stroke="#111" stroke-width="0.9"/>
<circle cx="433.10" cy="233.27" r="1.05" fill="none" stroke="#111" stroke-width="0.9"/>
<circle cx="435.70" cy="233.27" r="1.05" fill="none" stroke="#111" stroke-width="0.9"/>
<circle cx="438.30" cy="233.99" r="1.05" fill="none" stroke="#111" stroke-width="0.9"/>
<circle cx="440.90" cy="233.99" r="1.05" fill="none" stroke="#111" stroke-width="0.9"/>
<circle cx="443.50" cy="233.99" r="1.05" fill="none" stroke="#111" stroke-width="0.9"/>
<circle cx="435.70" cy="234.71" r="1.05" fill="none" stroke="#111" stroke-width="0.9"/>
<circle cx="438.30" cy="234.71" r="1.05" fill="none" stroke="#111" stroke-width="0.9"/>
<circle cx="440.90" cy="235.43" r="1.05" fill="none" stroke="#111" stroke-width="0.9"/>
<circle cx="435.70" cy="236.16" r="1.05" fill="none" stroke="#111" stroke-width="0.9"/>
<circle cx="438.30" cy="236.16" r="1.05" fill="none" stroke="#111" stroke-width="0.9"/>
<circle cx="440.90" cy="236.88" r="1.05" fill="none" stroke="#111" stroke-width="0.9"/>
<circle cx="435.70" cy="238.32" r="1.05" fill="none" stroke="#111" stroke-width="0.9"/>
<circle cx="438.30" cy="239.05" r="1.05" fill="none" stroke="#111" stroke-width="0.9"/>
<circle cx="440.90" cy="239.05" r="1.05" fill="none" stroke="#111" stroke-width="0.9"/>
<circle cx="437.00" cy="239.77" r="1.05" fill="none" stroke="#111" stroke-width="0.9"/>
<circle cx="439.60" cy="239.77" r="1.05" fill="none" stroke="#111" stroke-width="0.9"/>
<circle cx="438.30" cy="242.66" r="1.05" fill="none" stroke="#111" stroke-width="0.9"/>
<circle cx="437.00" cy="244.11" r="1.05" fill="none" stroke="#111" stroke-width="0.9"/>
<circle cx="439.60" cy="244.11" r="1.05" fill="none" stroke="#111" stroke-width="0.9"/>
<circle cx="435.70" cy="245.55" r="1.05" fill="none" stroke="#111" stroke-width="0.9"/>
<circle cx="438.30" cy="245.55" r="1.05" fill="none" stroke="#111" stroke-width="0.9"/>
<circle cx="440.90" cy="245.55" r="1.05" fill="none" stroke="#111" stroke-width="0.9"/>
<circle cx="437.00" cy="247.00" r="1.05" fill="none" stroke="#111" stroke-width="0.9"/>
<circle cx="439.60" cy="247.72" r="1.05" fill="none" stroke="#111" stroke-width="0.9"/>
<circle cx="437.00" cy="249.89" r="1.05" fill="none" stroke="#111" stroke-width="0.9"/>
<circle cx="439.60" cy="249.89" r="1.05" fill="none" stroke="#111" stroke-width="0.9"/>
<circle cx="437.00" cy="251.33" r="1.05" fill="none" stroke="#111" stroke-width="0.9"/>
<circle cx="439.60" cy="252.06" r="1.05" fill="none" stroke="#111" stroke-width="0.9"/>
<circle cx="438.30" cy="252.78" r="1.05" fill="none" stroke="#111" stroke-width="0.9"/>
<circle cx="438.30" cy="254.95" r="1.05" fill="none" stroke="#111" stroke-width="0.9"/>
<circle cx="457.50" cy="228.21" r="1.05" fill="none" stroke="#F70A62" stroke-width="0.9"/>
<circle cx="457.50" cy="233.99" r="1.05" fill="none" stroke="#F70A62" stroke-width="0.9"/>
<circle cx="457.50" cy="242.66" r="1.05" fill="none" stroke="#F70A62" stroke-width="0.9"/>
<circle cx="456.20" cy="244.11" r="1.05" fill="none" stroke="#F70A62" stroke-width="0.9"/>
<circle cx="458.80" cy="244.11" r="1.05" fill="none" stroke="#F70A62" stroke-width="0.9"/>
<circle cx="454.90" cy="246.27" r="1.05" fill="none" stroke="#F70A62" stroke-width="0.9"/>
<circle cx="457.50" cy="247.00" r="1.05" fill="none" stroke="#F70A62" stroke-width="0.9"/>
<circle cx="460.10" cy="247.00" r="1.05" fill="none" stroke="#F70A62" stroke-width="0.9"/>
<circle cx="456.20" cy="248.44" r="1.05" fill="none" stroke="#F70A62" stroke-width="0.9"/>
<circle cx="458.80" cy="249.17" r="1.05" fill="none" stroke="#F70A62" stroke-width="0.9"/>
<circle cx="452.30" cy="249.89" r="1.05" fill="none" stroke="#F70A62" stroke-width="0.9"/>
<circle cx="454.90" cy="249.89" r="1.05" fill="none" stroke="#F70A62" stroke-width="0.9"/>
<circle cx="457.50" cy="249.89" r="1.05" fill="none" stroke="#F70A62" stroke-width="0.9"/>
<circle cx="460.10" cy="250.61" r="1.05" fill="none" stroke="#F70A62" stroke-width="0.9"/>
<circle cx="462.70" cy="250.61" r="1.05" fill="none" stroke="#F70A62" stroke-width="0.9"/>
<circle cx="454.90" cy="251.33" r="1.05" fill="none" stroke="#F70A62" stroke-width="0.9"/>
<circle cx="457.50" cy="252.06" r="1.05" fill="none" stroke="#F70A62" stroke-width="0.9"/>
<circle cx="460.10" cy="252.06" r="1.05" fill="none" stroke="#F70A62" stroke-width="0.9"/>
<circle cx="454.90" cy="252.78" r="1.05" fill="none" stroke="#F70A62" stroke-width="0.9"/>
<circle cx="457.50" cy="252.78" r="1.05" fill="none" stroke="#F70A62" stroke-width="0.9"/>
<circle cx="460.10" cy="253.50" r="1.05" fill="none" stroke="#F70A62" stroke-width="0.9"/>
<circle cx="451.00" cy="254.22" r="1.05" fill="none" stroke="#F70A62" stroke-width="0.9"/>
<circle cx="453.60" cy="254.22" r="1.05" fill="none" stroke="#F70A62" stroke-width="0.9"/>
<circle cx="456.20" cy="254.22" r="1.05" fill="none" stroke="#F70A62" stroke-width="0.9"/>
<circle cx="458.80" cy="254.22" r="1.05" fill="none" stroke="#F70A62" stroke-width="0.9"/>
<circle cx="461.40" cy="254.22" r="1.05" fill="none" stroke="#F70A62" stroke-width="0.9"/>
<circle cx="464.00" cy="254.22" r="1.05" fill="none" stroke="#F70A62" stroke-width="0.9"/>
<circle cx="453.60" cy="255.67" r="1.05" fill="none" stroke="#F70A62" stroke-width="0.9"/>
<circle cx="456.20" cy="255.67" r="1.05" fill="none" stroke="#F70A62" stroke-width="0.9"/>
<circle cx="458.80" cy="256.39" r="1.05" fill="none" stroke="#F70A62" stroke-width="0.9"/>
<circle cx="461.40" cy="256.39" r="1.05" fill="none" stroke="#F70A62" stroke-width="0.9"/>
<circle cx="454.90" cy="257.11" r="1.05" fill="none" stroke="#F70A62" stroke-width="0.9"/>
<circle cx="457.50" cy="257.84" r="1.05" fill="none" stroke="#F70A62" stroke-width="0.9"/>
<circle cx="460.10" cy="257.84" r="1.05" fill="none" stroke="#F70A62" stroke-width="0.9"/>
<circle cx="456.20" cy="260.01" r="1.05" fill="none" stroke="#F70A62" stroke-width="0.9"/>
<circle cx="458.80" cy="260.73" r="1.05" fill="none" stroke="#F70A62" stroke-width="0.9"/>
<circle cx="456.20" cy="261.45" r="1.05" fill="none" stroke="#F70A62" stroke-width="0.9"/>
<circle cx="458.80" cy="262.17" r="1.05" fill="none" stroke="#F70A62" stroke-width="0.9"/>
<circle cx="454.90" cy="263.62" r="1.05" fill="none" stroke="#F70A62" stroke-width="0.9"/>
<circle cx="457.50" cy="263.62" r="1.05" fill="none" stroke="#F70A62" stroke-width="0.9"/>
<circle cx="460.10" cy="264.34" r="1.05" fill="none" stroke="#F70A62" stroke-width="0.9"/>
<circle cx="457.50" cy="265.06" r="1.05" fill="none" stroke="#F70A62" stroke-width="0.9"/>
<circle cx="456.20" cy="267.23" r="1.05" fill="none" stroke="#F70A62" stroke-width="0.9"/>
<circle cx="458.80" cy="267.96" r="1.05" fill="none" stroke="#F70A62" stroke-width="0.9"/>
<line x1="379.60" y1="241.00" x2="395.30" y2="241.00" stroke="#111" stroke-width="2.0"/>
<line x1="399.00" y1="241.90" x2="414.70" y2="241.90" stroke="#F70A62" stroke-width="2.0"/>
<line x1="431.30" y1="241.90" x2="446.30" y2="241.90" stroke="#111" stroke-width="2.0"/>
<line x1="450.00" y1="254.50" x2="465.20" y2="254.50" stroke="#F70A62" stroke-width="2.0"/>
<circle cx="441.5" cy="182.4" r="1.15" fill="none" stroke="#111" stroke-width="0.95"/>
<circle cx="441.5" cy="191.6" r="1.15" fill="none" stroke="#F70A62" stroke-width="0.95"/>
<text transform="translate(448.71,184.55) scale(0.954,1)" font-size="6.25" fill="#222">Placebo</text>
<text transform="translate(449.07,193.75) scale(0.919,1)" font-size="6.25" fill="#222">Treated</text>
<text transform="translate(503.78,166.75) scale(0.966,1)" font-size="14.97" font-weight="bold" fill="#000" stroke="#000" stroke-width="0.3">H</text>
<text transform="translate(501.40,283.91) rotate(-90) scale(0.919,1)" font-size="9.01" font-weight="bold" fill="#000">Alkaline Phosphatase (U/L)</text>
<line x1="527.70" y1="177.50" x2="527.70" y2="286.35" stroke="#444" stroke-width="1.5"/>
<line x1="526.95" y1="285.60" x2="684.00" y2="285.60" stroke="#444" stroke-width="1.5"/>
<line x1="524.40" y1="285.60" x2="527.70" y2="285.60" stroke="#111" stroke-width="1.0"/>
<text transform="translate(518.25,287.35) scale(1.000,1)" font-size="5.09" font-weight="bold" fill="#3a3a3a">30</text>
<line x1="524.40" y1="263.80" x2="527.70" y2="263.80" stroke="#111" stroke-width="1.0"/>
<text transform="translate(518.25,265.55) scale(1.000,1)" font-size="5.09" font-weight="bold" fill="#3a3a3a">40</text>
<line x1="524.40" y1="242.30" x2="527.70" y2="242.30" stroke="#111" stroke-width="1.0"/>
<text transform="translate(518.25,244.05) scale(1.000,1)" font-size="5.09" font-weight="bold" fill="#3a3a3a">50</text>
<line x1="524.40" y1="220.70" x2="527.70" y2="220.70" stroke="#111" stroke-width="1.0"/>
<text transform="translate(518.25,222.45) scale(1.000,1)" font-size="5.09" font-weight="bold" fill="#3a3a3a">60</text>
<line x1="524.40" y1="199.00" x2="527.70" y2="199.00" stroke="#111" stroke-width="1.0"/>
<text transform="translate(518.25,200.75) scale(1.000,1)" font-size="5.09" font-weight="bold" fill="#3a3a3a">70</text>
<line x1="524.40" y1="177.50" x2="527.70" y2="177.50" stroke="#111" stroke-width="1.0"/>
<text transform="translate(518.25,179.25) scale(1.000,1)" font-size="5.09" font-weight="bold" fill="#3a3a3a">80</text>
<line x1="551.70" y1="285.60" x2="551.70" y2="288.90" stroke="#111" stroke-width="1.0"/>
<text transform="translate(540.85,294.00) scale(0.900,1)" font-size="5.81" font-weight="bold" fill="#1a1a1a" stroke="#1a1a1a" stroke-width="0.12">Baseline</text>
<line x1="587.80" y1="285.60" x2="587.80" y2="288.90" stroke="#111" stroke-width="1.0"/>
<text transform="translate(579.30,294.00) scale(0.889,1)" font-size="5.81" font-weight="bold" fill="#1a1a1a" stroke="#1a1a1a" stroke-width="0.12">Day 14</text>
<line x1="623.90" y1="285.60" x2="623.90" y2="288.90" stroke="#111" stroke-width="1.0"/>
<text transform="translate(614.82,294.00) scale(0.849,1)" font-size="5.81" font-weight="bold" fill="#1a1a1a" stroke="#1a1a1a" stroke-width="0.12">Day 90*</text>
<line x1="659.70" y1="285.60" x2="659.70" y2="288.90" stroke="#111" stroke-width="1.0"/>
<text transform="translate(648.65,294.00) scale(0.897,1)" font-size="5.81" font-weight="bold" fill="#1a1a1a" stroke="#1a1a1a" stroke-width="0.12">Day 160*</text>
<text transform="translate(583.21,306.60) scale(0.937,1)" font-size="8.72" font-weight="bold" fill="#000">Time (days)</text>
<polyline points="551.5,214.8 587.8,214.8 623.9,252.3 659.7,250.4" fill="none" stroke="#F70A62" stroke-width="0.9"/>
<line x1="551.50" y1="204.70" x2="551.50" y2="225.30" stroke="#F70A62" stroke-width="0.9"/>
<line x1="549.50" y1="204.70" x2="553.50" y2="204.70" stroke="#F70A62" stroke-width="0.9"/>
<line x1="549.50" y1="225.30" x2="553.50" y2="225.30" stroke="#F70A62" stroke-width="0.9"/>
<line x1="587.80" y1="206.00" x2="587.80" y2="223.60" stroke="#F70A62" stroke-width="0.9"/>
<line x1="585.80" y1="206.00" x2="589.80" y2="206.00" stroke="#F70A62" stroke-width="0.9"/>
<line x1="585.80" y1="223.60" x2="589.80" y2="223.60" stroke="#F70A62" stroke-width="0.9"/>
<line x1="623.90" y1="244.40" x2="623.90" y2="260.10" stroke="#F70A62" stroke-width="0.9"/>
<line x1="621.90" y1="244.40" x2="625.90" y2="244.40" stroke="#F70A62" stroke-width="0.9"/>
<line x1="621.90" y1="260.10" x2="625.90" y2="260.10" stroke="#F70A62" stroke-width="0.9"/>
<line x1="659.70" y1="242.40" x2="659.70" y2="258.90" stroke="#F70A62" stroke-width="0.9"/>
<line x1="657.70" y1="242.40" x2="661.70" y2="242.40" stroke="#F70A62" stroke-width="0.9"/>
<line x1="657.70" y1="258.90" x2="661.70" y2="258.90" stroke="#F70A62" stroke-width="0.9"/>
<rect x="549.3" y="212.60000000000002" width="4.4" height="4.4" fill="#F70A62"/>
<rect x="585.5999999999999" y="212.60000000000002" width="4.4" height="4.4" fill="#F70A62"/>
<rect x="621.6999999999999" y="250.10000000000002" width="4.4" height="4.4" fill="#F70A62"/>
<rect x="657.5" y="248.20000000000002" width="4.4" height="4.4" fill="#F70A62"/>
<polyline points="551.5,210 587.8,214.1 623.9,214.1 659.7,215.3" fill="none" stroke="#111" stroke-width="0.9"/>
<line x1="551.50" y1="199.60" x2="551.50" y2="220.40" stroke="#111" stroke-width="0.9"/>
<line x1="549.50" y1="199.60" x2="553.50" y2="199.60" stroke="#111" stroke-width="0.9"/>
<line x1="549.50" y1="220.40" x2="553.50" y2="220.40" stroke="#111" stroke-width="0.9"/>
<line x1="587.80" y1="203.80" x2="587.80" y2="224.40" stroke="#111" stroke-width="0.9"/>
<line x1="585.80" y1="203.80" x2="589.80" y2="203.80" stroke="#111" stroke-width="0.9"/>
<line x1="585.80" y1="224.40" x2="589.80" y2="224.40" stroke="#111" stroke-width="0.9"/>
<line x1="623.90" y1="203.20" x2="623.90" y2="224.30" stroke="#111" stroke-width="0.9"/>
<line x1="621.90" y1="203.20" x2="625.90" y2="203.20" stroke="#111" stroke-width="0.9"/>
<line x1="621.90" y1="224.30" x2="625.90" y2="224.30" stroke="#111" stroke-width="0.9"/>
<line x1="659.70" y1="204.20" x2="659.70" y2="226.20" stroke="#111" stroke-width="0.9"/>
<line x1="657.70" y1="204.20" x2="661.70" y2="204.20" stroke="#111" stroke-width="0.9"/>
<line x1="657.70" y1="226.20" x2="661.70" y2="226.20" stroke="#111" stroke-width="0.9"/>
<circle cx="551.5" cy="210" r="2.25" fill="#111"/>
<circle cx="587.8" cy="214.1" r="2.25" fill="#111"/>
<circle cx="623.9" cy="214.1" r="2.25" fill="#111"/>
<circle cx="659.7" cy="215.3" r="2.25" fill="#111"/>
<line x1="645.50" y1="181.00" x2="652.70" y2="181.00" stroke="#111" stroke-width="0.9"/>
<circle cx="649.1" cy="181.0" r="1.9" fill="#111"/>
<line x1="645.50" y1="190.00" x2="652.70" y2="190.00" stroke="#F70A62" stroke-width="0.9"/>
<rect x="647.0" y="187.9" width="4.2" height="4.2" fill="#F70A62"/>
<text transform="translate(656.53,183.15) scale(0.926,1)" font-size="6.25" fill="#222">Placebo</text>
<text transform="translate(656.87,192.15) scale(0.900,1)" font-size="6.25" fill="#222">Treated</text>
</svg></body></html>
